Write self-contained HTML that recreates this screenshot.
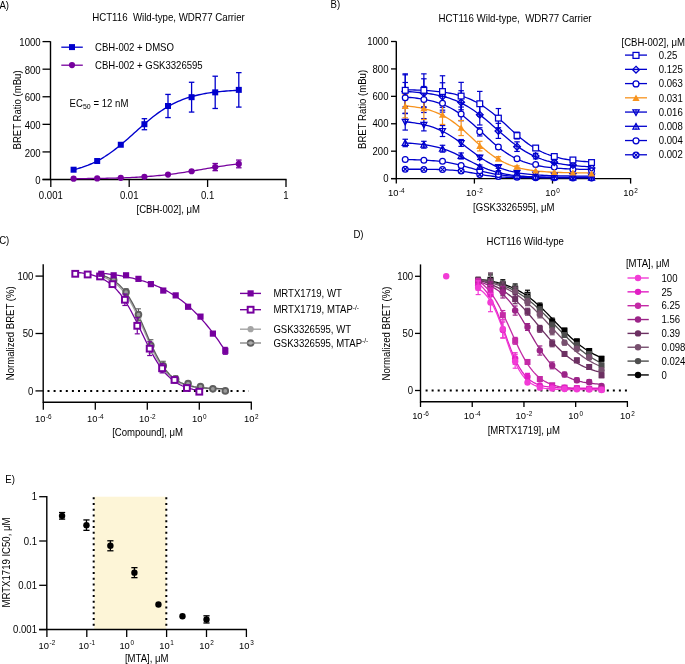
<!DOCTYPE html><html><head><meta charset="utf-8"><style>html,body{margin:0;padding:0;background:#fff;}svg text{font-family:"Liberation Sans",sans-serif;white-space:pre;}svg{will-change:transform;}</style></head><body><svg width="685" height="664" viewBox="0 0 685 664" font-family='"Liberation Sans", sans-serif' style="display:block">
<rect width="685" height="664" fill="#fff"/>
<text transform="translate(-0.6,8.6) scale(0.94,1)" text-anchor="start" font-size="10.2" fill="#000" >A)</text>
<g transform="translate(168.5,0) scale(1.012,1) translate(-168.5,0)">
<text transform="translate(168.5,20.5) scale(0.94,1)" text-anchor="middle" font-size="10.2" fill="#000" >HCT116  Wild-type, WDR77 Carrier</text>
</g>
<line x1="50.5" y1="41.3" x2="50.5" y2="180.1" stroke="#000" stroke-width="1.4" />
<line x1="42.5" y1="179.5" x2="286.6" y2="179.5" stroke="#000" stroke-width="1.4" />
<line x1="42.5" y1="179.5" x2="50.5" y2="179.5" stroke="#000" stroke-width="1.3" />
<text transform="translate(40.6,184.1) scale(0.94,1)" text-anchor="end" font-size="10.2" fill="#000" >0</text>
<line x1="42.5" y1="151.92" x2="50.5" y2="151.92" stroke="#000" stroke-width="1.3" />
<text transform="translate(40.6,156.52) scale(0.94,1)" text-anchor="end" font-size="10.2" fill="#000" >200</text>
<line x1="42.5" y1="124.34" x2="50.5" y2="124.34" stroke="#000" stroke-width="1.3" />
<text transform="translate(40.6,128.94) scale(0.94,1)" text-anchor="end" font-size="10.2" fill="#000" >400</text>
<line x1="42.5" y1="96.76" x2="50.5" y2="96.76" stroke="#000" stroke-width="1.3" />
<text transform="translate(40.6,101.36) scale(0.94,1)" text-anchor="end" font-size="10.2" fill="#000" >600</text>
<line x1="42.5" y1="69.18" x2="50.5" y2="69.18" stroke="#000" stroke-width="1.3" />
<text transform="translate(40.6,73.78) scale(0.94,1)" text-anchor="end" font-size="10.2" fill="#000" >800</text>
<line x1="42.5" y1="41.6" x2="50.5" y2="41.6" stroke="#000" stroke-width="1.3" />
<text transform="translate(40.6,46.2) scale(0.94,1)" text-anchor="end" font-size="10.2" fill="#000" >1000</text>
<line x1="50.8" y1="179.5" x2="50.8" y2="187" stroke="#000" stroke-width="1.3" />
<text transform="translate(50.8,198.8) scale(0.94,1)" text-anchor="middle" font-size="10.2" fill="#000" >0.001</text>
<line x1="129.2" y1="179.5" x2="129.2" y2="187" stroke="#000" stroke-width="1.3" />
<text transform="translate(129.2,198.8) scale(0.94,1)" text-anchor="middle" font-size="10.2" fill="#000" >0.01</text>
<line x1="207.6" y1="179.5" x2="207.6" y2="187" stroke="#000" stroke-width="1.3" />
<text transform="translate(207.6,198.8) scale(0.94,1)" text-anchor="middle" font-size="10.2" fill="#000" >0.1</text>
<line x1="286" y1="179.5" x2="286" y2="187" stroke="#000" stroke-width="1.3" />
<text transform="translate(286,198.8) scale(0.94,1)" text-anchor="middle" font-size="10.2" fill="#000" >1</text>
<text transform="translate(168.2,213.1) scale(0.94,1)" text-anchor="middle" font-size="10.2" fill="#000" >[CBH-002], μM</text>
<text transform="translate(20.6,109.9) rotate(-90) scale(0.94,1)" text-anchor="middle" font-size="10.2" fill="#000" >BRET Ratio (mBu)</text>
<line x1="61.3" y1="47.2" x2="82.8" y2="47.2" stroke="#0000CD" stroke-width="1.3" />
<rect x="69" y="44.1" width="6" height="6" fill="#0000CD"/>
<text transform="translate(95,50.8) scale(0.94,1)" text-anchor="start" font-size="10.2" fill="#000" >CBH-002 + DMSO</text>
<line x1="61.3" y1="65.2" x2="82.8" y2="65.2" stroke="#76009E" stroke-width="1.3" />
<circle cx="72" cy="65.1" r="3.1" fill="#76009E"/>
<text transform="translate(95,68.7) scale(0.94,1)" text-anchor="start" font-size="10.2" fill="#000" >CBH-002 + GSK3326595</text>
<text transform="translate(69.6,106.8) scale(0.94,1)" text-anchor="start" font-size="10.2" fill="#000" >EC<tspan font-size="7.4" dy="2.0">50</tspan><tspan dx="0.3" dy="-2.0"> = 12 nM</tspan></text>
<path d="M73.54 169.76L75.63 169.23L77.72 168.66L79.81 168.04L81.91 167.38L84 166.67L86.09 165.91L88.18 165.1L90.27 164.23L92.37 163.31L94.46 162.33L96.55 161.29L98.64 160.19L100.73 159.03L102.83 157.8L104.92 156.52L107.01 155.16L109.1 153.75L111.19 152.28L113.28 150.75L115.38 149.16L117.47 147.52L119.56 145.83L121.65 144.09L123.74 142.32L125.84 140.51L127.93 138.67L130.02 136.81L132.11 134.93L134.2 133.05L136.3 131.16L138.39 129.28L140.48 127.41L142.57 125.56L144.66 123.74L146.76 121.95L148.85 120.19L150.94 118.48L153.03 116.82L155.12 115.21L157.21 113.65L159.31 112.16L161.4 110.72L163.49 109.34L165.58 108.03L167.67 106.77L169.77 105.58L171.86 104.46L173.95 103.39L176.04 102.39L178.13 101.44L180.23 100.55L182.32 99.72L184.41 98.94L186.5 98.21L188.59 97.53L190.68 96.89L192.78 96.3L194.87 95.75L196.96 95.23L199.05 94.76L201.14 94.32L203.24 93.91L205.33 93.53L207.42 93.18L209.51 92.86L211.6 92.56L213.7 92.29L215.79 92.03L217.88 91.8L219.97 91.58L222.06 91.38L224.16 91.2L226.25 91.03L228.34 90.87L230.43 90.73L232.52 90.6L234.61 90.48L236.71 90.37L238.8 90.26" fill="none" stroke="#0000CD" stroke-width="1.4"/>
<path d="M73.54 178.64L75.63 178.62L77.72 178.61L79.81 178.59L81.91 178.58L84 178.56L86.09 178.54L88.18 178.52L90.27 178.49L92.37 178.47L94.46 178.44L96.55 178.41L98.64 178.38L100.73 178.35L102.83 178.31L104.92 178.28L107.01 178.23L109.1 178.19L111.19 178.14L113.28 178.09L115.38 178.04L117.47 177.98L119.56 177.92L121.65 177.85L123.74 177.78L125.84 177.7L127.93 177.62L130.02 177.53L132.11 177.44L134.2 177.34L136.3 177.23L138.39 177.11L140.48 176.99L142.57 176.86L144.66 176.73L146.76 176.58L148.85 176.43L150.94 176.26L153.03 176.09L155.12 175.91L157.21 175.72L159.31 175.52L161.4 175.3L163.49 175.08L165.58 174.85L167.67 174.6L169.77 174.35L171.86 174.09L173.95 173.81L176.04 173.53L178.13 173.23L180.23 172.93L182.32 172.62L184.41 172.3L186.5 171.97L188.59 171.63L190.68 171.29L192.78 170.95L194.87 170.59L196.96 170.24L199.05 169.88L201.14 169.53L203.24 169.17L205.33 168.81L207.42 168.46L209.51 168.1L211.6 167.75L213.7 167.41L215.79 167.07L217.88 166.74L219.97 166.41L222.06 166.09L224.16 165.79L226.25 165.48L228.34 165.19L230.43 164.91L232.52 164.64L234.61 164.38L236.71 164.13L238.8 163.89" fill="none" stroke="#76009E" stroke-width="1.3"/>
<rect x="70.59" y="166.71" width="6" height="6" fill="#0000CD"/>
<rect x="94.19" y="158.02" width="6" height="6" fill="#0000CD"/>
<rect x="117.79" y="141.75" width="6" height="6" fill="#0000CD"/>
<line x1="144.4" y1="118.69" x2="144.4" y2="129.72" stroke="#0000CD" stroke-width="1.3" />
<line x1="141.65" y1="118.69" x2="147.15" y2="118.69" stroke="#0000CD" stroke-width="1.3" />
<line x1="141.65" y1="129.72" x2="147.15" y2="129.72" stroke="#0000CD" stroke-width="1.3" />
<rect x="141.4" y="121.2" width="6" height="6" fill="#0000CD"/>
<line x1="168" y1="94.42" x2="168" y2="117.58" stroke="#0000CD" stroke-width="1.3" />
<line x1="165.25" y1="94.42" x2="170.75" y2="94.42" stroke="#0000CD" stroke-width="1.3" />
<line x1="165.25" y1="117.58" x2="170.75" y2="117.58" stroke="#0000CD" stroke-width="1.3" />
<rect x="165" y="103" width="6" height="6" fill="#0000CD"/>
<line x1="191.6" y1="82.28" x2="191.6" y2="112.07" stroke="#0000CD" stroke-width="1.3" />
<line x1="188.85" y1="82.28" x2="194.35" y2="82.28" stroke="#0000CD" stroke-width="1.3" />
<line x1="188.85" y1="112.07" x2="194.35" y2="112.07" stroke="#0000CD" stroke-width="1.3" />
<rect x="188.6" y="94.17" width="6" height="6" fill="#0000CD"/>
<line x1="215.2" y1="76.21" x2="215.2" y2="108.48" stroke="#0000CD" stroke-width="1.3" />
<line x1="212.45" y1="76.21" x2="217.95" y2="76.21" stroke="#0000CD" stroke-width="1.3" />
<line x1="212.45" y1="108.48" x2="217.95" y2="108.48" stroke="#0000CD" stroke-width="1.3" />
<rect x="212.2" y="89.35" width="6" height="6" fill="#0000CD"/>
<line x1="238.8" y1="72.63" x2="238.8" y2="107.1" stroke="#0000CD" stroke-width="1.3" />
<line x1="236.05" y1="72.63" x2="241.55" y2="72.63" stroke="#0000CD" stroke-width="1.3" />
<line x1="236.05" y1="107.1" x2="241.55" y2="107.1" stroke="#0000CD" stroke-width="1.3" />
<rect x="235.8" y="86.87" width="6" height="6" fill="#0000CD"/>
<circle cx="73.59" cy="178.67" r="3.1" fill="#76009E"/>
<circle cx="97.19" cy="178.4" r="3.1" fill="#76009E"/>
<circle cx="120.79" cy="177.85" r="3.1" fill="#76009E"/>
<circle cx="144.4" cy="176.74" r="3.1" fill="#76009E"/>
<circle cx="168" cy="174.54" r="3.1" fill="#76009E"/>
<line x1="191.6" y1="170.54" x2="191.6" y2="171.92" stroke="#76009E" stroke-width="1.3" />
<line x1="188.85" y1="170.54" x2="194.35" y2="170.54" stroke="#76009E" stroke-width="1.3" />
<line x1="188.85" y1="171.92" x2="194.35" y2="171.92" stroke="#76009E" stroke-width="1.3" />
<circle cx="191.6" cy="171.23" r="3.1" fill="#76009E"/>
<line x1="215.2" y1="163.5" x2="215.2" y2="170.67" stroke="#76009E" stroke-width="1.3" />
<line x1="212.45" y1="163.5" x2="217.95" y2="163.5" stroke="#76009E" stroke-width="1.3" />
<line x1="212.45" y1="170.67" x2="217.95" y2="170.67" stroke="#76009E" stroke-width="1.3" />
<circle cx="215.2" cy="167.09" r="3.1" fill="#76009E"/>
<line x1="238.8" y1="160.06" x2="238.8" y2="167.78" stroke="#76009E" stroke-width="1.3" />
<line x1="236.05" y1="160.06" x2="241.55" y2="160.06" stroke="#76009E" stroke-width="1.3" />
<line x1="236.05" y1="167.78" x2="241.55" y2="167.78" stroke="#76009E" stroke-width="1.3" />
<circle cx="238.8" cy="163.92" r="3.1" fill="#76009E"/>
<text transform="translate(330.5,7.6) scale(0.94,1)" text-anchor="start" font-size="10.2" fill="#000" >B)</text>
<g transform="translate(515,0) scale(1.015,1) translate(-515,0)">
<text transform="translate(515,22) scale(0.94,1)" text-anchor="middle" font-size="10.2" fill="#000" >HCT116 Wild-type,  WDR77 Carrier</text>
</g>
<line x1="396.3" y1="41.2" x2="396.3" y2="179.2" stroke="#000" stroke-width="1.4" />
<line x1="391" y1="178.6" x2="631.2" y2="178.6" stroke="#000" stroke-width="1.4" />
<line x1="391" y1="178.6" x2="396.3" y2="178.6" stroke="#000" stroke-width="1.3" />
<text transform="translate(388.5,182.3) scale(0.94,1)" text-anchor="end" font-size="10.2" fill="#000" >0</text>
<line x1="391" y1="151.18" x2="396.3" y2="151.18" stroke="#000" stroke-width="1.3" />
<text transform="translate(388.5,154.88) scale(0.94,1)" text-anchor="end" font-size="10.2" fill="#000" >200</text>
<line x1="391" y1="123.76" x2="396.3" y2="123.76" stroke="#000" stroke-width="1.3" />
<text transform="translate(388.5,127.46) scale(0.94,1)" text-anchor="end" font-size="10.2" fill="#000" >400</text>
<line x1="391" y1="96.34" x2="396.3" y2="96.34" stroke="#000" stroke-width="1.3" />
<text transform="translate(388.5,100.04) scale(0.94,1)" text-anchor="end" font-size="10.2" fill="#000" >600</text>
<line x1="391" y1="68.92" x2="396.3" y2="68.92" stroke="#000" stroke-width="1.3" />
<text transform="translate(388.5,72.62) scale(0.94,1)" text-anchor="end" font-size="10.2" fill="#000" >800</text>
<line x1="391" y1="41.5" x2="396.3" y2="41.5" stroke="#000" stroke-width="1.3" />
<text transform="translate(388.5,45.2) scale(0.94,1)" text-anchor="end" font-size="10.2" fill="#000" >1000</text>
<line x1="396.3" y1="178.6" x2="396.3" y2="183.6" stroke="#000" stroke-width="1.3" />
<text transform="translate(396.3,195.8)" text-anchor="middle" font-size="9.4">10<tspan font-size="6.4" dx="0.6" dy="-3.3">-4</tspan></text>
<line x1="474.4" y1="178.6" x2="474.4" y2="183.6" stroke="#000" stroke-width="1.3" />
<text transform="translate(474.4,195.8)" text-anchor="middle" font-size="9.4">10<tspan font-size="6.4" dx="0.6" dy="-3.3">-2</tspan></text>
<line x1="552.5" y1="178.6" x2="552.5" y2="183.6" stroke="#000" stroke-width="1.3" />
<text transform="translate(552.5,195.8)" text-anchor="middle" font-size="9.4">10<tspan font-size="6.4" dx="0.6" dy="-3.3">0</tspan></text>
<line x1="630.6" y1="178.6" x2="630.6" y2="183.6" stroke="#000" stroke-width="1.3" />
<text transform="translate(630.6,195.8)" text-anchor="middle" font-size="9.4">10<tspan font-size="6.4" dx="0.6" dy="-3.3">2</tspan></text>
<text transform="translate(513.8,210.7) scale(0.94,1)" text-anchor="middle" font-size="10.2" fill="#000" >[GSK3326595], μM</text>
<text transform="translate(366.3,109.4) rotate(-90) scale(0.94,1)" text-anchor="middle" font-size="10.2" fill="#000" >BRET Ratio (mBu)</text>
<text transform="translate(621.5,46) scale(0.94,1)" text-anchor="start" font-size="10.2" fill="#000" >[CBH-002], μM</text>
<line x1="625" y1="55.1" x2="647" y2="55.1" stroke="#0000CD" stroke-width="1.3" />
<rect x="633.02" y="52.42" width="5.95" height="5.95" fill="#fff" stroke="#0000CD" stroke-width="1.25"/>
<text transform="translate(658.8,58.8) scale(0.94,1)" text-anchor="start" font-size="10.2" fill="#000" >0.25</text>
<line x1="625" y1="69.34" x2="647" y2="69.34" stroke="#0000CD" stroke-width="1.3" />
<path d="M636 66.27L639.38 69.64L636 73.02L632.62 69.64Z" fill="none" stroke="#0000CD" stroke-width="1.25"/><line x1="632.62" y1="69.64" x2="639.38" y2="69.64" stroke="#0000CD" stroke-width="1"/>
<text transform="translate(658.8,73.04) scale(0.94,1)" text-anchor="start" font-size="10.2" fill="#000" >0.125</text>
<line x1="625" y1="83.58" x2="647" y2="83.58" stroke="#0000CD" stroke-width="1.3" />
<circle cx="636" cy="83.88" r="2.98" fill="#fff" stroke="#0000CD" stroke-width="1.25"/>
<text transform="translate(658.8,87.28) scale(0.94,1)" text-anchor="start" font-size="10.2" fill="#000" >0.063</text>
<line x1="625" y1="97.82" x2="647" y2="97.82" stroke="#F7931E" stroke-width="1.3" />
<path d="M636 94.52L639.6 101L632.4 101Z" fill="#F7931E"/>
<text transform="translate(658.8,101.52) scale(0.94,1)" text-anchor="start" font-size="10.2" fill="#000" >0.031</text>
<line x1="625" y1="112.06" x2="647" y2="112.06" stroke="#0000CD" stroke-width="1.3" />
<path d="M636 115.48L639.12 109.83L632.88 109.83Z" fill="none" stroke="#0000CD" stroke-width="1.25"/><line x1="636" y1="109.39" x2="636" y2="115.33" stroke="#0000CD" stroke-width="1"/>
<text transform="translate(658.8,115.76) scale(0.94,1)" text-anchor="start" font-size="10.2" fill="#000" >0.016</text>
<line x1="625" y1="126.3" x2="647" y2="126.3" stroke="#0000CD" stroke-width="1.3" />
<path d="M636 123.48L639.12 129.13L632.88 129.13Z" fill="none" stroke="#0000CD" stroke-width="1.25"/><line x1="636" y1="123.63" x2="636" y2="129.58" stroke="#0000CD" stroke-width="1"/>
<text transform="translate(658.8,130) scale(0.94,1)" text-anchor="start" font-size="10.2" fill="#000" >0.008</text>
<line x1="625" y1="140.54" x2="647" y2="140.54" stroke="#0000CD" stroke-width="1.3" />
<circle cx="636" cy="140.84" r="2.98" fill="#fff" stroke="#0000CD" stroke-width="1.25"/>
<text transform="translate(658.8,144.24) scale(0.94,1)" text-anchor="start" font-size="10.2" fill="#000" >0.004</text>
<line x1="625" y1="154.78" x2="647" y2="154.78" stroke="#0000CD" stroke-width="1.3" />
<circle cx="636" cy="155.08" r="2.98" fill="#fff" stroke="#0000CD" stroke-width="1.25"/>
<path d="M633.8 152.88L638.2 157.28M633.8 157.28L638.2 152.88" stroke="#0000CD" stroke-width="1.15"/>
<text transform="translate(658.8,158.48) scale(0.94,1)" text-anchor="start" font-size="10.2" fill="#000" >0.002</text>
<path d="M405.23 169.23L407.59 169.23L409.95 169.24L412.31 169.24L414.67 169.25L417.03 169.26L419.38 169.27L421.74 169.28L424.1 169.3L426.46 169.32L428.82 169.34L431.18 169.38L433.54 169.41L435.89 169.46L438.25 169.52L440.61 169.58L442.97 169.67L445.33 169.77L447.69 169.89L450.04 170.03L452.4 170.2L454.76 170.4L457.12 170.63L459.48 170.9L461.84 171.2L464.19 171.54L466.55 171.92L468.91 172.32L471.27 172.75L473.63 173.2L475.99 173.65L478.35 174.09L480.7 174.53L483.06 174.94L485.42 175.32L487.78 175.67L490.14 175.98L492.5 176.26L494.85 176.5L497.21 176.71L499.57 176.89L501.93 177.04L504.29 177.17L506.65 177.27L509.01 177.36L511.36 177.43L513.72 177.49L516.08 177.54L518.44 177.58L520.8 177.61L523.16 177.64L525.51 177.66L527.87 177.67L530.23 177.69L532.59 177.7L534.95 177.71L537.31 177.72L539.66 177.72L542.02 177.73L544.38 177.73L546.74 177.74L549.1 177.74L551.46 177.74L553.82 177.74L556.17 177.74L558.53 177.74L560.89 177.75L563.25 177.75L565.61 177.75L567.97 177.75L570.32 177.75L572.68 177.75L575.04 177.75L577.4 177.75L579.76 177.75L582.12 177.75L584.47 177.75L586.83 177.75L589.19 177.75L591.55 177.75" fill="none" stroke="#0000CD" stroke-width="1.3"/>
<path d="M405.23 159.56L407.59 159.6L409.95 159.65L412.31 159.7L414.67 159.76L417.03 159.83L419.38 159.91L421.74 160.01L424.1 160.11L426.46 160.24L428.82 160.38L431.18 160.54L433.54 160.73L435.89 160.94L438.25 161.18L440.61 161.45L442.97 161.75L445.33 162.09L447.69 162.47L450.04 162.88L452.4 163.34L454.76 163.83L457.12 164.37L459.48 164.94L461.84 165.55L464.19 166.19L466.55 166.85L468.91 167.52L471.27 168.21L473.63 168.9L475.99 169.58L478.35 170.25L480.7 170.9L483.06 171.52L485.42 172.11L487.78 172.66L490.14 173.18L492.5 173.65L494.85 174.09L497.21 174.48L499.57 174.84L501.93 175.16L504.29 175.44L506.65 175.7L509.01 175.92L511.36 176.12L513.72 176.29L516.08 176.44L518.44 176.58L520.8 176.69L523.16 176.79L525.51 176.88L527.87 176.95L530.23 177.02L532.59 177.07L534.95 177.12L537.31 177.17L539.66 177.2L542.02 177.23L544.38 177.26L546.74 177.28L549.1 177.3L551.46 177.32L553.82 177.34L556.17 177.35L558.53 177.36L560.89 177.37L563.25 177.38L565.61 177.38L567.97 177.39L570.32 177.39L572.68 177.4L575.04 177.4L577.4 177.41L579.76 177.41L582.12 177.41L584.47 177.41L586.83 177.41L589.19 177.42L591.55 177.42" fill="none" stroke="#0000CD" stroke-width="1.3"/>
<path d="M405.23 142.99L407.59 143.12L409.95 143.26L412.31 143.42L414.67 143.61L417.03 143.82L419.38 144.06L421.74 144.33L424.1 144.64L426.46 144.99L428.82 145.37L431.18 145.81L433.54 146.3L435.89 146.84L438.25 147.44L440.61 148.1L442.97 148.83L445.33 149.62L447.69 150.48L450.04 151.4L452.4 152.39L454.76 153.44L457.12 154.54L459.48 155.69L461.84 156.87L464.19 158.09L466.55 159.32L468.91 160.55L471.27 161.78L473.63 162.99L475.99 164.17L478.35 165.31L480.7 166.4L483.06 167.43L485.42 168.41L487.78 169.32L490.14 170.16L492.5 170.94L494.85 171.65L497.21 172.3L499.57 172.89L501.93 173.42L504.29 173.9L506.65 174.33L509.01 174.71L511.36 175.04L513.72 175.34L516.08 175.61L518.44 175.84L520.8 176.05L523.16 176.23L525.51 176.39L527.87 176.53L530.23 176.65L532.59 176.76L534.95 176.85L537.31 176.93L539.66 177.01L542.02 177.07L544.38 177.12L546.74 177.17L549.1 177.21L551.46 177.25L553.82 177.28L556.17 177.31L558.53 177.33L560.89 177.35L563.25 177.37L565.61 177.39L567.97 177.4L570.32 177.41L572.68 177.42L575.04 177.43L577.4 177.44L579.76 177.44L582.12 177.45L584.47 177.46L586.83 177.46L589.19 177.46L591.55 177.47" fill="none" stroke="#0000CD" stroke-width="1.3"/>
<path d="M405.23 121.76L407.59 122L409.95 122.26L412.31 122.56L414.67 122.9L417.03 123.28L419.38 123.7L421.74 124.18L424.1 124.7L426.46 125.29L428.82 125.95L431.18 126.67L433.54 127.47L435.89 128.35L438.25 129.31L440.61 130.36L442.97 131.49L445.33 132.72L447.69 134.04L450.04 135.44L452.4 136.93L454.76 138.49L457.12 140.13L459.48 141.83L461.84 143.57L464.19 145.36L466.55 147.16L468.91 148.98L471.27 150.78L473.63 152.56L475.99 154.31L478.35 156.01L480.7 157.65L483.06 159.22L485.42 160.71L487.78 162.11L490.14 163.43L492.5 164.66L494.85 165.8L497.21 166.85L499.57 167.81L501.93 168.69L504.29 169.49L506.65 170.22L509.01 170.87L511.36 171.46L513.72 171.99L516.08 172.47L518.44 172.89L520.8 173.27L523.16 173.61L525.51 173.91L527.87 174.18L530.23 174.42L532.59 174.62L534.95 174.81L537.31 174.98L539.66 175.12L542.02 175.25L544.38 175.36L546.74 175.46L549.1 175.55L551.46 175.63L553.82 175.7L556.17 175.76L558.53 175.81L560.89 175.86L563.25 175.9L565.61 175.93L567.97 175.97L570.32 175.99L572.68 176.02L575.04 176.04L577.4 176.06L579.76 176.08L582.12 176.09L584.47 176.1L586.83 176.11L589.19 176.12L591.55 176.13" fill="none" stroke="#0000CD" stroke-width="1.3"/>
<path d="M405.23 105.78L407.59 106.02L409.95 106.28L412.31 106.58L414.67 106.91L417.03 107.29L419.38 107.71L421.74 108.18L424.1 108.71L426.46 109.3L428.82 109.96L431.18 110.68L433.54 111.49L435.89 112.38L438.25 113.37L440.61 114.45L442.97 115.62L445.33 116.9L447.69 118.29L450.04 119.79L452.4 121.39L454.76 123.1L457.12 124.9L459.48 126.8L461.84 128.78L464.19 130.84L466.55 132.95L468.91 135.11L471.27 137.3L473.63 139.49L475.99 141.68L478.35 143.85L480.7 145.97L483.06 148.03L485.42 150.03L487.78 151.94L490.14 153.76L492.5 155.48L494.85 157.1L497.21 158.61L499.57 160.01L501.93 161.31L504.29 162.5L506.65 163.59L509.01 164.59L511.36 165.49L513.72 166.31L516.08 167.05L518.44 167.72L520.8 168.32L523.16 168.85L525.51 169.33L527.87 169.76L530.23 170.14L532.59 170.48L534.95 170.79L537.31 171.05L539.66 171.29L542.02 171.5L544.38 171.69L546.74 171.86L549.1 172L551.46 172.13L553.82 172.25L556.17 172.35L558.53 172.44L560.89 172.52L563.25 172.59L565.61 172.65L567.97 172.7L570.32 172.75L572.68 172.79L575.04 172.83L577.4 172.86L579.76 172.89L582.12 172.92L584.47 172.94L586.83 172.96L589.19 172.98L591.55 172.99" fill="none" stroke="#F7931E" stroke-width="1.3"/>
<path d="M405.23 97.1L407.59 97.28L409.95 97.49L412.31 97.72L414.67 97.97L417.03 98.26L419.38 98.58L421.74 98.93L424.1 99.33L426.46 99.77L428.82 100.27L431.18 100.81L433.54 101.42L435.89 102.09L438.25 102.83L440.61 103.64L442.97 104.54L445.33 105.52L447.69 106.59L450.04 107.76L452.4 109.02L454.76 110.38L457.12 111.85L459.48 113.41L461.84 115.08L464.19 116.85L466.55 118.7L468.91 120.65L471.27 122.67L473.63 124.76L475.99 126.9L478.35 129.08L480.7 131.29L483.06 133.51L485.42 135.72L487.78 137.92L490.14 140.07L492.5 142.18L494.85 144.22L497.21 146.19L499.57 148.07L501.93 149.86L504.29 151.56L506.65 153.16L509.01 154.65L511.36 156.04L513.72 157.33L516.08 158.53L518.44 159.63L520.8 160.63L523.16 161.55L525.51 162.39L527.87 163.15L530.23 163.84L532.59 164.47L534.95 165.03L537.31 165.54L539.66 165.99L542.02 166.4L544.38 166.77L546.74 167.1L549.1 167.4L551.46 167.66L553.82 167.9L556.17 168.11L558.53 168.29L560.89 168.46L563.25 168.61L565.61 168.74L567.97 168.86L570.32 168.97L572.68 169.06L575.04 169.14L577.4 169.22L579.76 169.28L582.12 169.34L584.47 169.39L586.83 169.44L589.19 169.48L591.55 169.52" fill="none" stroke="#0000CD" stroke-width="1.3"/>
<path d="M405.23 91.5L407.59 91.63L409.95 91.77L412.31 91.93L414.67 92.11L417.03 92.3L419.38 92.52L421.74 92.76L424.1 93.02L426.46 93.31L428.82 93.64L431.18 94L433.54 94.39L435.89 94.83L438.25 95.3L440.61 95.83L442.97 96.41L445.33 97.04L447.69 97.73L450.04 98.49L452.4 99.31L454.76 100.21L457.12 101.18L459.48 102.23L461.84 103.36L464.19 104.58L466.55 105.88L468.91 107.27L471.27 108.75L473.63 110.31L475.99 111.96L478.35 113.69L480.7 115.5L483.06 117.37L485.42 119.31L487.78 121.3L490.14 123.34L492.5 125.4L494.85 127.49L497.21 129.59L499.57 131.69L501.93 133.77L504.29 135.82L506.65 137.84L509.01 139.8L511.36 141.71L513.72 143.55L516.08 145.32L518.44 147.01L520.8 148.62L523.16 150.14L525.51 151.58L527.87 152.92L530.23 154.18L532.59 155.36L534.95 156.45L537.31 157.46L539.66 158.39L542.02 159.25L544.38 160.04L546.74 160.77L549.1 161.43L551.46 162.04L553.82 162.59L556.17 163.09L558.53 163.55L560.89 163.96L563.25 164.34L565.61 164.68L567.97 164.99L570.32 165.27L572.68 165.52L575.04 165.75L577.4 165.95L579.76 166.14L582.12 166.3L584.47 166.46L586.83 166.59L589.19 166.71L591.55 166.82" fill="none" stroke="#0000CD" stroke-width="1.3"/>
<path d="M405.23 89.73L407.59 89.79L409.95 89.85L412.31 89.92L414.67 89.99L417.03 90.08L419.38 90.18L421.74 90.29L424.1 90.41L426.46 90.55L428.82 90.71L431.18 90.88L433.54 91.08L435.89 91.29L438.25 91.54L440.61 91.81L442.97 92.11L445.33 92.45L447.69 92.83L450.04 93.25L452.4 93.72L454.76 94.23L457.12 94.81L459.48 95.44L461.84 96.14L464.19 96.91L466.55 97.76L468.91 98.68L471.27 99.7L473.63 100.8L475.99 101.99L478.35 103.28L480.7 104.67L483.06 106.16L485.42 107.74L487.78 109.42L490.14 111.2L492.5 113.06L494.85 115L497.21 117.01L499.57 119.08L501.93 121.2L504.29 123.35L506.65 125.52L509.01 127.7L511.36 129.86L513.72 132L516.08 134.1L518.44 136.15L520.8 138.13L523.16 140.04L525.51 141.87L527.87 143.6L530.23 145.24L532.59 146.79L534.95 148.23L537.31 149.58L539.66 150.83L542.02 151.98L544.38 153.05L546.74 154.02L549.1 154.91L551.46 155.73L553.82 156.47L556.17 157.14L558.53 157.74L560.89 158.29L563.25 158.79L565.61 159.24L567.97 159.64L570.32 160L572.68 160.32L575.04 160.61L577.4 160.87L579.76 161.1L582.12 161.31L584.47 161.5L586.83 161.66L589.19 161.81L591.55 161.94" fill="none" stroke="#0000CD" stroke-width="1.3"/>
<line x1="405.23" y1="139.25" x2="405.23" y2="146.66" stroke="#0000CD" stroke-width="1.2" />
<line x1="402.48" y1="139.25" x2="407.98" y2="139.25" stroke="#0000CD" stroke-width="1.2" />
<line x1="402.48" y1="146.66" x2="407.98" y2="146.66" stroke="#0000CD" stroke-width="1.2" />
<line x1="423.87" y1="141.31" x2="423.87" y2="148.16" stroke="#0000CD" stroke-width="1.2" />
<line x1="421.12" y1="141.31" x2="426.62" y2="141.31" stroke="#0000CD" stroke-width="1.2" />
<line x1="421.12" y1="148.16" x2="426.62" y2="148.16" stroke="#0000CD" stroke-width="1.2" />
<line x1="442.5" y1="145.28" x2="442.5" y2="152.14" stroke="#0000CD" stroke-width="1.2" />
<line x1="439.75" y1="145.28" x2="445.25" y2="145.28" stroke="#0000CD" stroke-width="1.2" />
<line x1="439.75" y1="152.14" x2="445.25" y2="152.14" stroke="#0000CD" stroke-width="1.2" />
<line x1="461.13" y1="152.96" x2="461.13" y2="158.99" stroke="#0000CD" stroke-width="1.2" />
<line x1="458.38" y1="152.96" x2="463.88" y2="152.96" stroke="#0000CD" stroke-width="1.2" />
<line x1="458.38" y1="158.99" x2="463.88" y2="158.99" stroke="#0000CD" stroke-width="1.2" />
<line x1="479.76" y1="165.03" x2="479.76" y2="168.87" stroke="#0000CD" stroke-width="1.2" />
<line x1="477.01" y1="165.03" x2="482.51" y2="165.03" stroke="#0000CD" stroke-width="1.2" />
<line x1="477.01" y1="168.87" x2="482.51" y2="168.87" stroke="#0000CD" stroke-width="1.2" />
<line x1="498.39" y1="170.65" x2="498.39" y2="172.84" stroke="#0000CD" stroke-width="1.2" />
<line x1="495.64" y1="170.65" x2="501.14" y2="170.65" stroke="#0000CD" stroke-width="1.2" />
<line x1="495.64" y1="172.84" x2="501.14" y2="172.84" stroke="#0000CD" stroke-width="1.2" />
<line x1="405.23" y1="113.61" x2="405.23" y2="130.07" stroke="#0000CD" stroke-width="1.2" />
<line x1="402.48" y1="113.61" x2="407.98" y2="113.61" stroke="#0000CD" stroke-width="1.2" />
<line x1="402.48" y1="130.07" x2="407.98" y2="130.07" stroke="#0000CD" stroke-width="1.2" />
<line x1="423.87" y1="118.55" x2="423.87" y2="130.89" stroke="#0000CD" stroke-width="1.2" />
<line x1="421.12" y1="118.55" x2="426.62" y2="118.55" stroke="#0000CD" stroke-width="1.2" />
<line x1="421.12" y1="130.89" x2="426.62" y2="130.89" stroke="#0000CD" stroke-width="1.2" />
<line x1="442.5" y1="125.54" x2="442.5" y2="136.51" stroke="#0000CD" stroke-width="1.2" />
<line x1="439.75" y1="125.54" x2="445.25" y2="125.54" stroke="#0000CD" stroke-width="1.2" />
<line x1="439.75" y1="136.51" x2="445.25" y2="136.51" stroke="#0000CD" stroke-width="1.2" />
<line x1="461.13" y1="139.53" x2="461.13" y2="146.38" stroke="#0000CD" stroke-width="1.2" />
<line x1="458.38" y1="139.53" x2="463.88" y2="139.53" stroke="#0000CD" stroke-width="1.2" />
<line x1="458.38" y1="146.38" x2="463.88" y2="146.38" stroke="#0000CD" stroke-width="1.2" />
<line x1="479.76" y1="155.43" x2="479.76" y2="159.54" stroke="#0000CD" stroke-width="1.2" />
<line x1="477.01" y1="155.43" x2="482.51" y2="155.43" stroke="#0000CD" stroke-width="1.2" />
<line x1="477.01" y1="159.54" x2="482.51" y2="159.54" stroke="#0000CD" stroke-width="1.2" />
<line x1="498.39" y1="165.58" x2="498.39" y2="168.32" stroke="#0000CD" stroke-width="1.2" />
<line x1="495.64" y1="165.58" x2="501.14" y2="165.58" stroke="#0000CD" stroke-width="1.2" />
<line x1="495.64" y1="168.32" x2="501.14" y2="168.32" stroke="#0000CD" stroke-width="1.2" />
<line x1="517.02" y1="171.61" x2="517.02" y2="173.8" stroke="#0000CD" stroke-width="1.2" />
<line x1="514.27" y1="171.61" x2="519.77" y2="171.61" stroke="#0000CD" stroke-width="1.2" />
<line x1="514.27" y1="173.8" x2="519.77" y2="173.8" stroke="#0000CD" stroke-width="1.2" />
<line x1="405.23" y1="82.49" x2="405.23" y2="113.2" stroke="#0000CD" stroke-width="1.2" />
<line x1="402.48" y1="82.49" x2="407.98" y2="82.49" stroke="#0000CD" stroke-width="1.2" />
<line x1="402.48" y1="113.2" x2="407.98" y2="113.2" stroke="#0000CD" stroke-width="1.2" />
<line x1="423.87" y1="86.47" x2="423.87" y2="112.52" stroke="#0000CD" stroke-width="1.2" />
<line x1="421.12" y1="86.47" x2="426.62" y2="86.47" stroke="#0000CD" stroke-width="1.2" />
<line x1="421.12" y1="112.52" x2="426.62" y2="112.52" stroke="#0000CD" stroke-width="1.2" />
<line x1="442.5" y1="94.28" x2="442.5" y2="112.11" stroke="#0000CD" stroke-width="1.2" />
<line x1="439.75" y1="94.28" x2="445.25" y2="94.28" stroke="#0000CD" stroke-width="1.2" />
<line x1="439.75" y1="112.11" x2="445.25" y2="112.11" stroke="#0000CD" stroke-width="1.2" />
<line x1="461.13" y1="107.03" x2="461.13" y2="120.74" stroke="#0000CD" stroke-width="1.2" />
<line x1="458.38" y1="107.03" x2="463.88" y2="107.03" stroke="#0000CD" stroke-width="1.2" />
<line x1="458.38" y1="120.74" x2="463.88" y2="120.74" stroke="#0000CD" stroke-width="1.2" />
<line x1="479.76" y1="127.74" x2="479.76" y2="135.96" stroke="#0000CD" stroke-width="1.2" />
<line x1="477.01" y1="127.74" x2="482.51" y2="127.74" stroke="#0000CD" stroke-width="1.2" />
<line x1="477.01" y1="135.96" x2="482.51" y2="135.96" stroke="#0000CD" stroke-width="1.2" />
<line x1="498.39" y1="144.87" x2="498.39" y2="148.99" stroke="#0000CD" stroke-width="1.2" />
<line x1="495.64" y1="144.87" x2="501.14" y2="144.87" stroke="#0000CD" stroke-width="1.2" />
<line x1="495.64" y1="148.99" x2="501.14" y2="148.99" stroke="#0000CD" stroke-width="1.2" />
<line x1="517.02" y1="157.35" x2="517.02" y2="160.09" stroke="#0000CD" stroke-width="1.2" />
<line x1="514.27" y1="157.35" x2="519.77" y2="157.35" stroke="#0000CD" stroke-width="1.2" />
<line x1="514.27" y1="160.09" x2="519.77" y2="160.09" stroke="#0000CD" stroke-width="1.2" />
<line x1="535.66" y1="163.38" x2="535.66" y2="165.58" stroke="#0000CD" stroke-width="1.2" />
<line x1="532.91" y1="163.38" x2="538.41" y2="163.38" stroke="#0000CD" stroke-width="1.2" />
<line x1="532.91" y1="165.58" x2="538.41" y2="165.58" stroke="#0000CD" stroke-width="1.2" />
<line x1="405.23" y1="74.82" x2="405.23" y2="108.27" stroke="#0000CD" stroke-width="1.2" />
<line x1="402.48" y1="74.82" x2="407.98" y2="74.82" stroke="#0000CD" stroke-width="1.2" />
<line x1="402.48" y1="108.27" x2="407.98" y2="108.27" stroke="#0000CD" stroke-width="1.2" />
<line x1="423.87" y1="78.79" x2="423.87" y2="107.58" stroke="#0000CD" stroke-width="1.2" />
<line x1="421.12" y1="78.79" x2="426.62" y2="78.79" stroke="#0000CD" stroke-width="1.2" />
<line x1="421.12" y1="107.58" x2="426.62" y2="107.58" stroke="#0000CD" stroke-width="1.2" />
<line x1="442.5" y1="82.77" x2="442.5" y2="110.19" stroke="#0000CD" stroke-width="1.2" />
<line x1="439.75" y1="82.77" x2="445.25" y2="82.77" stroke="#0000CD" stroke-width="1.2" />
<line x1="439.75" y1="110.19" x2="445.25" y2="110.19" stroke="#0000CD" stroke-width="1.2" />
<line x1="461.13" y1="90.72" x2="461.13" y2="114.03" stroke="#0000CD" stroke-width="1.2" />
<line x1="458.38" y1="90.72" x2="463.88" y2="90.72" stroke="#0000CD" stroke-width="1.2" />
<line x1="458.38" y1="114.03" x2="463.88" y2="114.03" stroke="#0000CD" stroke-width="1.2" />
<line x1="479.76" y1="104.43" x2="479.76" y2="124.99" stroke="#0000CD" stroke-width="1.2" />
<line x1="477.01" y1="104.43" x2="482.51" y2="104.43" stroke="#0000CD" stroke-width="1.2" />
<line x1="477.01" y1="124.99" x2="482.51" y2="124.99" stroke="#0000CD" stroke-width="1.2" />
<line x1="498.39" y1="123.35" x2="498.39" y2="138.43" stroke="#0000CD" stroke-width="1.2" />
<line x1="495.64" y1="123.35" x2="501.14" y2="123.35" stroke="#0000CD" stroke-width="1.2" />
<line x1="495.64" y1="138.43" x2="501.14" y2="138.43" stroke="#0000CD" stroke-width="1.2" />
<line x1="517.02" y1="141.86" x2="517.02" y2="151.45" stroke="#0000CD" stroke-width="1.2" />
<line x1="514.27" y1="141.86" x2="519.77" y2="141.86" stroke="#0000CD" stroke-width="1.2" />
<line x1="514.27" y1="151.45" x2="519.77" y2="151.45" stroke="#0000CD" stroke-width="1.2" />
<line x1="535.66" y1="153.37" x2="535.66" y2="158.86" stroke="#0000CD" stroke-width="1.2" />
<line x1="532.91" y1="153.37" x2="538.41" y2="153.37" stroke="#0000CD" stroke-width="1.2" />
<line x1="532.91" y1="158.86" x2="538.41" y2="158.86" stroke="#0000CD" stroke-width="1.2" />
<line x1="554.29" y1="160.78" x2="554.29" y2="163.52" stroke="#0000CD" stroke-width="1.2" />
<line x1="551.54" y1="160.78" x2="557.04" y2="160.78" stroke="#0000CD" stroke-width="1.2" />
<line x1="551.54" y1="163.52" x2="557.04" y2="163.52" stroke="#0000CD" stroke-width="1.2" />
<line x1="572.92" y1="163.93" x2="572.92" y2="166.12" stroke="#0000CD" stroke-width="1.2" />
<line x1="570.17" y1="163.93" x2="575.67" y2="163.93" stroke="#0000CD" stroke-width="1.2" />
<line x1="570.17" y1="166.12" x2="575.67" y2="166.12" stroke="#0000CD" stroke-width="1.2" />
<line x1="405.23" y1="73.86" x2="405.23" y2="106.76" stroke="#0000CD" stroke-width="1.2" />
<line x1="402.48" y1="73.86" x2="407.98" y2="73.86" stroke="#0000CD" stroke-width="1.2" />
<line x1="402.48" y1="106.76" x2="407.98" y2="106.76" stroke="#0000CD" stroke-width="1.2" />
<line x1="423.87" y1="73.86" x2="423.87" y2="106.76" stroke="#0000CD" stroke-width="1.2" />
<line x1="421.12" y1="73.86" x2="426.62" y2="73.86" stroke="#0000CD" stroke-width="1.2" />
<line x1="421.12" y1="106.76" x2="426.62" y2="106.76" stroke="#0000CD" stroke-width="1.2" />
<line x1="442.5" y1="75.77" x2="442.5" y2="107.31" stroke="#0000CD" stroke-width="1.2" />
<line x1="439.75" y1="75.77" x2="445.25" y2="75.77" stroke="#0000CD" stroke-width="1.2" />
<line x1="439.75" y1="107.31" x2="445.25" y2="107.31" stroke="#0000CD" stroke-width="1.2" />
<line x1="461.13" y1="82.36" x2="461.13" y2="109.78" stroke="#0000CD" stroke-width="1.2" />
<line x1="458.38" y1="82.36" x2="463.88" y2="82.36" stroke="#0000CD" stroke-width="1.2" />
<line x1="458.38" y1="109.78" x2="463.88" y2="109.78" stroke="#0000CD" stroke-width="1.2" />
<line x1="479.76" y1="91.4" x2="479.76" y2="116.08" stroke="#0000CD" stroke-width="1.2" />
<line x1="477.01" y1="91.4" x2="482.51" y2="91.4" stroke="#0000CD" stroke-width="1.2" />
<line x1="477.01" y1="116.08" x2="482.51" y2="116.08" stroke="#0000CD" stroke-width="1.2" />
<line x1="498.39" y1="108.54" x2="498.39" y2="127.74" stroke="#0000CD" stroke-width="1.2" />
<line x1="495.64" y1="108.54" x2="501.14" y2="108.54" stroke="#0000CD" stroke-width="1.2" />
<line x1="495.64" y1="127.74" x2="501.14" y2="127.74" stroke="#0000CD" stroke-width="1.2" />
<line x1="517.02" y1="132.12" x2="517.02" y2="138.98" stroke="#0000CD" stroke-width="1.2" />
<line x1="514.27" y1="132.12" x2="519.77" y2="132.12" stroke="#0000CD" stroke-width="1.2" />
<line x1="514.27" y1="138.98" x2="519.77" y2="138.98" stroke="#0000CD" stroke-width="1.2" />
<line x1="535.66" y1="145.97" x2="535.66" y2="150.08" stroke="#0000CD" stroke-width="1.2" />
<line x1="532.91" y1="145.97" x2="538.41" y2="145.97" stroke="#0000CD" stroke-width="1.2" />
<line x1="532.91" y1="150.08" x2="538.41" y2="150.08" stroke="#0000CD" stroke-width="1.2" />
<line x1="554.29" y1="155.16" x2="554.29" y2="157.9" stroke="#0000CD" stroke-width="1.2" />
<line x1="551.54" y1="155.16" x2="557.04" y2="155.16" stroke="#0000CD" stroke-width="1.2" />
<line x1="551.54" y1="157.9" x2="557.04" y2="157.9" stroke="#0000CD" stroke-width="1.2" />
<line x1="572.92" y1="158.86" x2="572.92" y2="161.05" stroke="#0000CD" stroke-width="1.2" />
<line x1="570.17" y1="158.86" x2="575.67" y2="158.86" stroke="#0000CD" stroke-width="1.2" />
<line x1="570.17" y1="161.05" x2="575.67" y2="161.05" stroke="#0000CD" stroke-width="1.2" />
<line x1="591.55" y1="161.46" x2="591.55" y2="163.66" stroke="#0000CD" stroke-width="1.2" />
<line x1="588.8" y1="161.46" x2="594.3" y2="161.46" stroke="#0000CD" stroke-width="1.2" />
<line x1="588.8" y1="163.66" x2="594.3" y2="163.66" stroke="#0000CD" stroke-width="1.2" />
<line x1="405.23" y1="94.56" x2="405.23" y2="117.86" stroke="#F7931E" stroke-width="1.2" />
<line x1="402.48" y1="94.56" x2="407.98" y2="94.56" stroke="#F7931E" stroke-width="1.2" />
<line x1="402.48" y1="117.86" x2="407.98" y2="117.86" stroke="#F7931E" stroke-width="1.2" />
<line x1="423.87" y1="97.57" x2="423.87" y2="119.51" stroke="#F7931E" stroke-width="1.2" />
<line x1="421.12" y1="97.57" x2="426.62" y2="97.57" stroke="#F7931E" stroke-width="1.2" />
<line x1="421.12" y1="119.51" x2="426.62" y2="119.51" stroke="#F7931E" stroke-width="1.2" />
<line x1="442.5" y1="105.25" x2="442.5" y2="124.45" stroke="#F7931E" stroke-width="1.2" />
<line x1="439.75" y1="105.25" x2="445.25" y2="105.25" stroke="#F7931E" stroke-width="1.2" />
<line x1="439.75" y1="124.45" x2="445.25" y2="124.45" stroke="#F7931E" stroke-width="1.2" />
<line x1="461.13" y1="120.47" x2="461.13" y2="135.55" stroke="#F7931E" stroke-width="1.2" />
<line x1="458.38" y1="120.47" x2="463.88" y2="120.47" stroke="#F7931E" stroke-width="1.2" />
<line x1="458.38" y1="135.55" x2="463.88" y2="135.55" stroke="#F7931E" stroke-width="1.2" />
<line x1="479.76" y1="141.31" x2="479.76" y2="150.91" stroke="#F7931E" stroke-width="1.2" />
<line x1="477.01" y1="141.31" x2="482.51" y2="141.31" stroke="#F7931E" stroke-width="1.2" />
<line x1="477.01" y1="150.91" x2="482.51" y2="150.91" stroke="#F7931E" stroke-width="1.2" />
<line x1="498.39" y1="156.66" x2="498.39" y2="160.78" stroke="#F7931E" stroke-width="1.2" />
<line x1="495.64" y1="156.66" x2="501.14" y2="156.66" stroke="#F7931E" stroke-width="1.2" />
<line x1="495.64" y1="160.78" x2="501.14" y2="160.78" stroke="#F7931E" stroke-width="1.2" />
<line x1="517.02" y1="165.85" x2="517.02" y2="168.04" stroke="#F7931E" stroke-width="1.2" />
<line x1="514.27" y1="165.85" x2="519.77" y2="165.85" stroke="#F7931E" stroke-width="1.2" />
<line x1="514.27" y1="168.04" x2="519.77" y2="168.04" stroke="#F7931E" stroke-width="1.2" />
<circle cx="405.23" cy="169.14" r="2.88" fill="#fff" stroke="#0000CD" stroke-width="1.25"/>
<path d="M403.11 167.01L407.36 171.27M403.11 171.27L407.36 167.01" stroke="#0000CD" stroke-width="1.15"/>
<circle cx="423.87" cy="169.55" r="2.88" fill="#fff" stroke="#0000CD" stroke-width="1.25"/>
<path d="M421.74 167.42L425.99 171.68M421.74 171.68L425.99 167.42" stroke="#0000CD" stroke-width="1.15"/>
<circle cx="442.5" cy="169.55" r="2.88" fill="#fff" stroke="#0000CD" stroke-width="1.25"/>
<path d="M440.37 167.42L444.62 171.68M440.37 171.68L444.62 167.42" stroke="#0000CD" stroke-width="1.15"/>
<circle cx="461.13" cy="170.92" r="2.88" fill="#fff" stroke="#0000CD" stroke-width="1.25"/>
<path d="M459 168.79L463.26 173.05M459 173.05L463.26 168.79" stroke="#0000CD" stroke-width="1.15"/>
<circle cx="479.76" cy="174.62" r="2.88" fill="#fff" stroke="#0000CD" stroke-width="1.25"/>
<path d="M477.63 172.5L481.89 176.75M477.63 176.75L481.89 172.5" stroke="#0000CD" stroke-width="1.15"/>
<circle cx="498.39" cy="176.54" r="2.88" fill="#fff" stroke="#0000CD" stroke-width="1.25"/>
<path d="M496.26 174.42L500.52 178.67M496.26 178.67L500.52 174.42" stroke="#0000CD" stroke-width="1.15"/>
<circle cx="517.02" cy="177.37" r="2.88" fill="#fff" stroke="#0000CD" stroke-width="1.25"/>
<path d="M514.9 175.24L519.15 179.49M514.9 179.49L519.15 175.24" stroke="#0000CD" stroke-width="1.15"/>
<circle cx="535.66" cy="177.64" r="2.88" fill="#fff" stroke="#0000CD" stroke-width="1.25"/>
<path d="M533.53 175.51L537.78 179.77M533.53 179.77L537.78 175.51" stroke="#0000CD" stroke-width="1.15"/>
<circle cx="554.29" cy="177.78" r="2.88" fill="#fff" stroke="#0000CD" stroke-width="1.25"/>
<path d="M552.16 175.65L556.41 179.9M552.16 179.9L556.41 175.65" stroke="#0000CD" stroke-width="1.15"/>
<circle cx="572.92" cy="177.91" r="2.88" fill="#fff" stroke="#0000CD" stroke-width="1.25"/>
<path d="M570.79 175.79L575.05 180.04M570.79 180.04L575.05 175.79" stroke="#0000CD" stroke-width="1.15"/>
<circle cx="591.55" cy="177.91" r="2.88" fill="#fff" stroke="#0000CD" stroke-width="1.25"/>
<path d="M589.42 175.79L593.68 180.04M589.42 180.04L593.68 175.79" stroke="#0000CD" stroke-width="1.15"/>
<circle cx="405.23" cy="159.54" r="2.88" fill="#fff" stroke="#0000CD" stroke-width="1.25"/>
<circle cx="423.87" cy="160.37" r="2.88" fill="#fff" stroke="#0000CD" stroke-width="1.25"/>
<circle cx="442.5" cy="161.33" r="2.88" fill="#fff" stroke="#0000CD" stroke-width="1.25"/>
<circle cx="461.13" cy="165.44" r="2.88" fill="#fff" stroke="#0000CD" stroke-width="1.25"/>
<circle cx="479.76" cy="170.79" r="2.88" fill="#fff" stroke="#0000CD" stroke-width="1.25"/>
<circle cx="498.39" cy="174.62" r="2.88" fill="#fff" stroke="#0000CD" stroke-width="1.25"/>
<circle cx="517.02" cy="176.27" r="2.88" fill="#fff" stroke="#0000CD" stroke-width="1.25"/>
<circle cx="535.66" cy="176.95" r="2.88" fill="#fff" stroke="#0000CD" stroke-width="1.25"/>
<circle cx="554.29" cy="177.37" r="2.88" fill="#fff" stroke="#0000CD" stroke-width="1.25"/>
<circle cx="572.92" cy="177.5" r="2.88" fill="#fff" stroke="#0000CD" stroke-width="1.25"/>
<circle cx="591.55" cy="177.64" r="2.88" fill="#fff" stroke="#0000CD" stroke-width="1.25"/>
<path d="M405.23 139.94L408.25 145.4L402.22 145.4Z" fill="none" stroke="#0000CD" stroke-width="1.25"/><line x1="405.23" y1="140.08" x2="405.23" y2="145.83" stroke="#0000CD" stroke-width="1"/>
<path d="M423.87 141.72L426.88 147.18L420.85 147.18Z" fill="none" stroke="#0000CD" stroke-width="1.25"/><line x1="423.87" y1="141.86" x2="423.87" y2="147.61" stroke="#0000CD" stroke-width="1"/>
<path d="M442.5 145.69L445.52 151.16L439.48 151.16Z" fill="none" stroke="#0000CD" stroke-width="1.25"/><line x1="442.5" y1="145.84" x2="442.5" y2="151.59" stroke="#0000CD" stroke-width="1"/>
<path d="M461.13 152.96L464.15 158.42L458.11 158.42Z" fill="none" stroke="#0000CD" stroke-width="1.25"/><line x1="461.13" y1="153.1" x2="461.13" y2="158.85" stroke="#0000CD" stroke-width="1"/>
<path d="M479.76 163.93L482.78 169.39L476.74 169.39Z" fill="none" stroke="#0000CD" stroke-width="1.25"/><line x1="479.76" y1="164.07" x2="479.76" y2="169.82" stroke="#0000CD" stroke-width="1"/>
<path d="M498.39 168.73L501.41 174.19L495.37 174.19Z" fill="none" stroke="#0000CD" stroke-width="1.25"/><line x1="498.39" y1="168.87" x2="498.39" y2="174.62" stroke="#0000CD" stroke-width="1"/>
<path d="M517.02 172.84L520.04 178.3L514 178.3Z" fill="none" stroke="#0000CD" stroke-width="1.25"/><line x1="517.02" y1="172.98" x2="517.02" y2="178.73" stroke="#0000CD" stroke-width="1"/>
<path d="M535.66 173.66L538.67 179.12L532.64 179.12Z" fill="none" stroke="#0000CD" stroke-width="1.25"/><line x1="535.66" y1="173.81" x2="535.66" y2="179.56" stroke="#0000CD" stroke-width="1"/>
<path d="M554.29 174.21L557.31 179.67L551.27 179.67Z" fill="none" stroke="#0000CD" stroke-width="1.25"/><line x1="554.29" y1="174.35" x2="554.29" y2="180.1" stroke="#0000CD" stroke-width="1"/>
<path d="M572.92 174.48L575.94 179.95L569.9 179.95Z" fill="none" stroke="#0000CD" stroke-width="1.25"/><line x1="572.92" y1="174.63" x2="572.92" y2="180.38" stroke="#0000CD" stroke-width="1"/>
<path d="M591.55 174.76L594.57 180.22L588.53 180.22Z" fill="none" stroke="#0000CD" stroke-width="1.25"/><line x1="591.55" y1="174.9" x2="591.55" y2="180.65" stroke="#0000CD" stroke-width="1"/>
<path d="M405.23 124.86L408.25 119.4L402.22 119.4Z" fill="none" stroke="#0000CD" stroke-width="1.25"/><line x1="405.23" y1="118.97" x2="405.23" y2="124.72" stroke="#0000CD" stroke-width="1"/>
<path d="M423.87 127.74L426.88 122.28L420.85 122.28Z" fill="none" stroke="#0000CD" stroke-width="1.25"/><line x1="423.87" y1="121.84" x2="423.87" y2="127.59" stroke="#0000CD" stroke-width="1"/>
<path d="M442.5 134.05L445.52 128.58L439.48 128.58Z" fill="none" stroke="#0000CD" stroke-width="1.25"/><line x1="442.5" y1="128.15" x2="442.5" y2="133.9" stroke="#0000CD" stroke-width="1"/>
<path d="M461.13 145.97L464.15 140.51L458.11 140.51Z" fill="none" stroke="#0000CD" stroke-width="1.25"/><line x1="461.13" y1="140.08" x2="461.13" y2="145.83" stroke="#0000CD" stroke-width="1"/>
<path d="M479.76 160.51L482.78 155.04L476.74 155.04Z" fill="none" stroke="#0000CD" stroke-width="1.25"/><line x1="479.76" y1="154.61" x2="479.76" y2="160.36" stroke="#0000CD" stroke-width="1"/>
<path d="M498.39 169.97L501.41 164.5L495.37 164.5Z" fill="none" stroke="#0000CD" stroke-width="1.25"/><line x1="498.39" y1="164.07" x2="498.39" y2="169.82" stroke="#0000CD" stroke-width="1"/>
<path d="M517.02 175.72L520.04 170.26L514 170.26Z" fill="none" stroke="#0000CD" stroke-width="1.25"/><line x1="517.02" y1="169.83" x2="517.02" y2="175.58" stroke="#0000CD" stroke-width="1"/>
<path d="M535.66 177.51L538.67 172.04L532.64 172.04Z" fill="none" stroke="#0000CD" stroke-width="1.25"/><line x1="535.66" y1="171.61" x2="535.66" y2="177.36" stroke="#0000CD" stroke-width="1"/>
<path d="M554.29 178.6L557.31 173.14L551.27 173.14Z" fill="none" stroke="#0000CD" stroke-width="1.25"/><line x1="554.29" y1="172.71" x2="554.29" y2="178.46" stroke="#0000CD" stroke-width="1"/>
<path d="M572.92 179.15L575.94 173.69L569.9 173.69Z" fill="none" stroke="#0000CD" stroke-width="1.25"/><line x1="572.92" y1="173.26" x2="572.92" y2="179.01" stroke="#0000CD" stroke-width="1"/>
<path d="M591.55 179.56L594.57 174.1L588.53 174.1Z" fill="none" stroke="#0000CD" stroke-width="1.25"/><line x1="591.55" y1="173.67" x2="591.55" y2="179.42" stroke="#0000CD" stroke-width="1"/>
<circle cx="405.23" cy="97.85" r="2.88" fill="#fff" stroke="#0000CD" stroke-width="1.25"/>
<circle cx="423.87" cy="99.49" r="2.88" fill="#fff" stroke="#0000CD" stroke-width="1.25"/>
<circle cx="442.5" cy="103.19" r="2.88" fill="#fff" stroke="#0000CD" stroke-width="1.25"/>
<circle cx="461.13" cy="113.89" r="2.88" fill="#fff" stroke="#0000CD" stroke-width="1.25"/>
<circle cx="479.76" cy="131.85" r="2.88" fill="#fff" stroke="#0000CD" stroke-width="1.25"/>
<circle cx="498.39" cy="146.93" r="2.88" fill="#fff" stroke="#0000CD" stroke-width="1.25"/>
<circle cx="517.02" cy="158.72" r="2.88" fill="#fff" stroke="#0000CD" stroke-width="1.25"/>
<circle cx="535.66" cy="164.48" r="2.88" fill="#fff" stroke="#0000CD" stroke-width="1.25"/>
<circle cx="554.29" cy="166.95" r="2.88" fill="#fff" stroke="#0000CD" stroke-width="1.25"/>
<circle cx="572.92" cy="169.41" r="2.88" fill="#fff" stroke="#0000CD" stroke-width="1.25"/>
<circle cx="591.55" cy="170.79" r="2.88" fill="#fff" stroke="#0000CD" stroke-width="1.25"/>
<path d="M405.23 88.17L408.61 91.54L405.23 94.92L401.86 91.54Z" fill="none" stroke="#0000CD" stroke-width="1.25"/><line x1="401.86" y1="91.54" x2="408.61" y2="91.54" stroke="#0000CD" stroke-width="1"/>
<path d="M423.87 89.81L427.24 93.19L423.87 96.56L420.49 93.19Z" fill="none" stroke="#0000CD" stroke-width="1.25"/><line x1="420.49" y1="93.19" x2="427.24" y2="93.19" stroke="#0000CD" stroke-width="1"/>
<path d="M442.5 93.1L445.87 96.48L442.5 99.85L439.12 96.48Z" fill="none" stroke="#0000CD" stroke-width="1.25"/><line x1="439.12" y1="96.48" x2="445.87" y2="96.48" stroke="#0000CD" stroke-width="1"/>
<path d="M461.13 99L464.5 102.37L461.13 105.75L457.75 102.37Z" fill="none" stroke="#0000CD" stroke-width="1.25"/><line x1="457.75" y1="102.37" x2="464.5" y2="102.37" stroke="#0000CD" stroke-width="1"/>
<path d="M479.76 111.34L483.14 114.71L479.76 118.09L476.39 114.71Z" fill="none" stroke="#0000CD" stroke-width="1.25"/><line x1="476.39" y1="114.71" x2="483.14" y2="114.71" stroke="#0000CD" stroke-width="1"/>
<path d="M498.39 127.51L501.77 130.89L498.39 134.26L495.02 130.89Z" fill="none" stroke="#0000CD" stroke-width="1.25"/><line x1="495.02" y1="130.89" x2="501.77" y2="130.89" stroke="#0000CD" stroke-width="1"/>
<path d="M517.02 143.28L520.4 146.66L517.02 150.03L513.65 146.66Z" fill="none" stroke="#0000CD" stroke-width="1.25"/><line x1="513.65" y1="146.66" x2="520.4" y2="146.66" stroke="#0000CD" stroke-width="1"/>
<path d="M535.66 152.74L539.03 156.12L535.66 159.49L532.28 156.12Z" fill="none" stroke="#0000CD" stroke-width="1.25"/><line x1="532.28" y1="156.12" x2="539.03" y2="156.12" stroke="#0000CD" stroke-width="1"/>
<path d="M554.29 158.77L557.66 162.15L554.29 165.52L550.91 162.15Z" fill="none" stroke="#0000CD" stroke-width="1.25"/><line x1="550.91" y1="162.15" x2="557.66" y2="162.15" stroke="#0000CD" stroke-width="1"/>
<path d="M572.92 161.65L576.29 165.03L572.92 168.4L569.54 165.03Z" fill="none" stroke="#0000CD" stroke-width="1.25"/><line x1="569.54" y1="165.03" x2="576.29" y2="165.03" stroke="#0000CD" stroke-width="1"/>
<path d="M591.55 164.53L594.92 167.91L591.55 171.28L588.17 167.91Z" fill="none" stroke="#0000CD" stroke-width="1.25"/><line x1="588.17" y1="167.91" x2="594.92" y2="167.91" stroke="#0000CD" stroke-width="1"/>
<rect x="402.36" y="87.43" width="5.75" height="5.75" fill="#fff" stroke="#0000CD" stroke-width="1.25"/>
<rect x="420.99" y="87.43" width="5.75" height="5.75" fill="#fff" stroke="#0000CD" stroke-width="1.25"/>
<rect x="439.62" y="88.67" width="5.75" height="5.75" fill="#fff" stroke="#0000CD" stroke-width="1.25"/>
<rect x="458.25" y="93.19" width="5.75" height="5.75" fill="#fff" stroke="#0000CD" stroke-width="1.25"/>
<rect x="476.89" y="100.87" width="5.75" height="5.75" fill="#fff" stroke="#0000CD" stroke-width="1.25"/>
<rect x="495.52" y="115.26" width="5.75" height="5.75" fill="#fff" stroke="#0000CD" stroke-width="1.25"/>
<rect x="514.15" y="132.68" width="5.75" height="5.75" fill="#fff" stroke="#0000CD" stroke-width="1.25"/>
<rect x="532.78" y="145.15" width="5.75" height="5.75" fill="#fff" stroke="#0000CD" stroke-width="1.25"/>
<rect x="551.41" y="153.65" width="5.75" height="5.75" fill="#fff" stroke="#0000CD" stroke-width="1.25"/>
<rect x="570.04" y="157.08" width="5.75" height="5.75" fill="#fff" stroke="#0000CD" stroke-width="1.25"/>
<rect x="588.67" y="159.68" width="5.75" height="5.75" fill="#fff" stroke="#0000CD" stroke-width="1.25"/>
<path d="M405.23 102.71L408.73 109.01L401.73 109.01Z" fill="#F7931E"/>
<path d="M423.87 105.04L427.37 111.34L420.37 111.34Z" fill="#F7931E"/>
<path d="M442.5 111.35L446 117.65L439 117.65Z" fill="#F7931E"/>
<path d="M461.13 124.51L464.63 130.81L457.63 130.81Z" fill="#F7931E"/>
<path d="M479.76 142.61L483.26 148.91L476.26 148.91Z" fill="#F7931E"/>
<path d="M498.39 155.22L501.89 161.52L494.89 161.52Z" fill="#F7931E"/>
<path d="M517.02 163.45L520.52 169.75L513.52 169.75Z" fill="#F7931E"/>
<path d="M535.66 167.29L539.16 173.59L532.16 173.59Z" fill="#F7931E"/>
<path d="M554.29 168.66L557.79 174.96L550.79 174.96Z" fill="#F7931E"/>
<path d="M572.92 169.2L576.42 175.5L569.42 175.5Z" fill="#F7931E"/>
<path d="M591.55 170.16L595.05 176.46L588.05 176.46Z" fill="#F7931E"/>
<text transform="translate(-0.8,244.2) scale(0.94,1)" text-anchor="start" font-size="10.2" fill="#000" >C)</text>
<line x1="43.2" y1="264.2" x2="43.2" y2="402.9" stroke="#000" stroke-width="1.4" />
<line x1="43.2" y1="402.2" x2="251.9" y2="402.2" stroke="#000" stroke-width="1.4" />
<line x1="35.5" y1="390.9" x2="43.2" y2="390.9" stroke="#000" stroke-width="1.3" />
<text transform="translate(33.4,394.6) scale(0.94,1)" text-anchor="end" font-size="10.2" fill="#000" >0</text>
<line x1="35.5" y1="333.5" x2="43.2" y2="333.5" stroke="#000" stroke-width="1.3" />
<text transform="translate(33.4,337.2) scale(0.94,1)" text-anchor="end" font-size="10.2" fill="#000" >50</text>
<line x1="35.5" y1="276.1" x2="43.2" y2="276.1" stroke="#000" stroke-width="1.3" />
<text transform="translate(33.4,279.8) scale(0.94,1)" text-anchor="end" font-size="10.2" fill="#000" >100</text>
<line x1="43.3" y1="402.2" x2="43.3" y2="409.8" stroke="#000" stroke-width="1.3" />
<text transform="translate(43.3,422.4)" text-anchor="middle" font-size="9.4">10<tspan font-size="6.4" dx="0.6" dy="-3.3">-6</tspan></text>
<line x1="95.3" y1="402.2" x2="95.3" y2="409.8" stroke="#000" stroke-width="1.3" />
<text transform="translate(95.3,422.4)" text-anchor="middle" font-size="9.4">10<tspan font-size="6.4" dx="0.6" dy="-3.3">-4</tspan></text>
<line x1="147.3" y1="402.2" x2="147.3" y2="409.8" stroke="#000" stroke-width="1.3" />
<text transform="translate(147.3,422.4)" text-anchor="middle" font-size="9.4">10<tspan font-size="6.4" dx="0.6" dy="-3.3">-2</tspan></text>
<line x1="199.3" y1="402.2" x2="199.3" y2="409.8" stroke="#000" stroke-width="1.3" />
<text transform="translate(199.3,422.4)" text-anchor="middle" font-size="9.4">10<tspan font-size="6.4" dx="0.6" dy="-3.3">0</tspan></text>
<line x1="251.3" y1="402.2" x2="251.3" y2="409.8" stroke="#000" stroke-width="1.3" />
<text transform="translate(251.3,422.4)" text-anchor="middle" font-size="9.4">10<tspan font-size="6.4" dx="0.6" dy="-3.3">2</tspan></text>
<text transform="translate(147.6,435.8) scale(0.94,1)" text-anchor="middle" font-size="10.2" fill="#000" >[Compound], μM</text>
<text transform="translate(14.2,333.3) rotate(-90) scale(0.94,1)" text-anchor="middle" font-size="10.2" fill="#000" >Normalized BRET (%)</text>
<line x1="47.5" y1="390.9" x2="249" y2="390.9" stroke="#000" stroke-width="2" stroke-dasharray="2 4.1"/>
<path d="M101.25 276.56L102.82 277.02L104.39 277.55L105.96 278.14L107.53 278.8L109.1 279.54L110.67 280.37L112.24 281.29L113.81 282.32L115.38 283.46L116.95 284.73L118.52 286.13L120.09 287.67L121.66 289.36L123.23 291.22L124.8 293.24L126.37 295.43L127.94 297.8L129.51 300.35L131.08 303.07L132.65 305.96L134.22 309.01L135.79 312.21L137.36 315.55L138.94 319L140.51 322.54L142.08 326.14L143.65 329.79L145.22 333.44L146.79 337.08L148.36 340.67L149.93 344.18L151.5 347.6L153.07 350.9L154.64 354.06L156.21 357.07L157.78 359.92L159.35 362.59L160.92 365.09L162.49 367.41L164.06 369.55L165.63 371.53L167.2 373.34L168.77 374.99L170.34 376.49L171.91 377.86L173.48 379.09L175.05 380.2L176.62 381.2L178.19 382.09L179.76 382.89L181.33 383.61L182.9 384.25L184.47 384.82L186.04 385.33L187.61 385.78L189.18 386.19L190.75 386.54L192.32 386.86L193.89 387.14L195.46 387.39L197.04 387.61L198.61 387.8L200.18 387.98L201.75 388.13L203.32 388.26L204.89 388.38L206.46 388.49L208.03 388.58L209.6 388.66L211.17 388.74L212.74 388.8L214.31 388.86L215.88 388.91L217.45 388.95L219.02 388.99L220.59 389.02L222.16 389.05L223.73 389.08L225.3 389.1" fill="none" stroke="#A4A4A4" stroke-width="1.3"/>
<path d="M101.25 275.18L102.82 275.62L104.39 276.12L105.96 276.68L107.53 277.31L109.1 278.01L110.67 278.8L112.24 279.67L113.81 280.65L115.38 281.74L116.95 282.95L118.52 284.28L120.09 285.76L121.66 287.38L123.23 289.16L124.8 291.1L126.37 293.21L127.94 295.5L129.51 297.96L131.08 300.6L132.65 303.41L134.22 306.39L135.79 309.52L137.36 312.8L138.94 316.2L140.51 319.71L142.08 323.29L143.65 326.93L145.22 330.6L146.79 334.26L148.36 337.9L149.93 341.47L151.5 344.96L153.07 348.35L154.64 351.6L156.21 354.71L157.78 357.67L159.35 360.45L160.92 363.06L162.49 365.5L164.06 367.76L165.63 369.84L167.2 371.76L168.77 373.51L170.34 375.11L171.91 376.56L173.48 377.87L175.05 379.06L176.62 380.13L178.19 381.1L179.76 381.96L181.33 382.73L182.9 383.42L184.47 384.04L186.04 384.59L187.61 385.08L189.18 385.51L190.75 385.9L192.32 386.24L193.89 386.55L195.46 386.82L197.04 387.06L198.61 387.27L200.18 387.46L201.75 387.62L203.32 387.77L204.89 387.9L206.46 388.02L208.03 388.12L209.6 388.21L211.17 388.29L212.74 388.36L214.31 388.42L215.88 388.47L217.45 388.52L219.02 388.56L220.59 388.6L222.16 388.63L223.73 388.66L225.3 388.69" fill="none" stroke="#5E5E5E" stroke-width="1.3"/>
<path d="M75.25 272.3L76.82 272.44L78.39 272.6L79.96 272.77L81.53 272.97L83.1 273.19L84.67 273.43L86.24 273.69L87.81 273.99L89.38 274.32L90.95 274.68L92.52 275.09L94.09 275.53L95.66 276.02L97.23 276.57L98.8 277.17L100.37 277.83L101.94 278.56L103.51 279.36L105.08 280.24L106.65 281.21L108.22 282.26L109.79 283.42L111.36 284.67L112.94 286.04L114.51 287.52L116.08 289.13L117.65 290.86L119.22 292.72L120.79 294.72L122.36 296.85L123.93 299.13L125.5 301.53L127.07 304.07L128.64 306.74L130.21 309.54L131.78 312.44L133.35 315.45L134.92 318.54L136.49 321.71L138.06 324.94L139.63 328.21L141.2 331.5L142.77 334.79L144.34 338.07L145.91 341.31L147.48 344.49L149.05 347.61L150.62 350.64L152.19 353.56L153.76 356.38L155.33 359.08L156.9 361.65L158.47 364.09L160.04 366.39L161.61 368.56L163.18 370.59L164.75 372.48L166.32 374.24L167.89 375.88L169.46 377.39L171.04 378.78L172.61 380.06L174.18 381.24L175.75 382.32L177.32 383.3L178.89 384.2L180.46 385.02L182.03 385.76L183.6 386.44L185.17 387.06L186.74 387.61L188.31 388.12L189.88 388.57L191.45 388.99L193.02 389.36L194.59 389.69L196.16 390L197.73 390.27L199.3 390.52" fill="none" stroke="#76009E" stroke-width="1.3"/>
<path d="M101.25 273.19L102.82 273.36L104.39 273.53L105.96 273.71L107.53 273.89L109.1 274.09L110.67 274.29L112.24 274.51L113.81 274.73L115.38 274.96L116.95 275.2L118.52 275.45L120.09 275.71L121.66 275.98L123.23 276.27L124.8 276.56L126.37 276.87L127.94 277.19L129.51 277.53L131.08 277.88L132.65 278.24L134.22 278.62L135.79 279.01L137.36 279.42L138.94 279.84L140.51 280.29L142.08 280.75L143.65 281.23L145.22 281.73L146.79 282.25L148.36 282.79L149.93 283.35L151.5 283.93L153.07 284.54L154.64 285.17L156.21 285.83L157.78 286.51L159.35 287.21L160.92 287.95L162.49 288.71L164.06 289.5L165.63 290.32L167.2 291.17L168.77 292.05L170.34 292.96L171.91 293.91L173.48 294.89L175.05 295.9L176.62 296.96L178.19 298.04L179.76 299.17L181.33 300.33L182.9 301.54L184.47 302.78L186.04 304.07L187.61 305.39L189.18 306.76L190.75 308.17L192.32 309.63L193.89 311.13L195.46 312.67L197.04 314.26L198.61 315.9L200.18 317.59L201.75 319.32L203.32 321.1L204.89 322.92L206.46 324.79L208.03 326.72L209.6 328.69L211.17 330.7L212.74 332.77L214.31 334.88L215.88 337.04L217.45 339.24L219.02 341.49L220.59 343.78L222.16 346.12L223.73 348.5L225.3 350.93" fill="none" stroke="#76009E" stroke-width="1.3"/>
<circle cx="101.25" cy="277.25" r="3" fill="#A4A4A4"/>
<line x1="113.65" y1="279.54" x2="113.65" y2="284.14" stroke="#A4A4A4" stroke-width="1.1" />
<line x1="111.15" y1="279.54" x2="116.15" y2="279.54" stroke="#A4A4A4" stroke-width="1.1" />
<line x1="111.15" y1="284.14" x2="116.15" y2="284.14" stroke="#A4A4A4" stroke-width="1.1" />
<circle cx="113.65" cy="281.84" r="3" fill="#A4A4A4"/>
<line x1="126.06" y1="291.02" x2="126.06" y2="297.91" stroke="#A4A4A4" stroke-width="1.1" />
<line x1="123.56" y1="291.02" x2="128.56" y2="291.02" stroke="#A4A4A4" stroke-width="1.1" />
<line x1="123.56" y1="297.91" x2="128.56" y2="297.91" stroke="#A4A4A4" stroke-width="1.1" />
<circle cx="126.06" cy="294.47" r="3" fill="#A4A4A4"/>
<line x1="138.46" y1="311.69" x2="138.46" y2="323.17" stroke="#A4A4A4" stroke-width="1.1" />
<line x1="135.96" y1="311.69" x2="140.96" y2="311.69" stroke="#A4A4A4" stroke-width="1.1" />
<line x1="135.96" y1="323.17" x2="140.96" y2="323.17" stroke="#A4A4A4" stroke-width="1.1" />
<circle cx="138.46" cy="317.43" r="3" fill="#A4A4A4"/>
<line x1="150.87" y1="342.11" x2="150.87" y2="353.59" stroke="#A4A4A4" stroke-width="1.1" />
<line x1="148.37" y1="342.11" x2="153.37" y2="342.11" stroke="#A4A4A4" stroke-width="1.1" />
<line x1="148.37" y1="353.59" x2="153.37" y2="353.59" stroke="#A4A4A4" stroke-width="1.1" />
<circle cx="150.87" cy="347.85" r="3" fill="#A4A4A4"/>
<line x1="163.27" y1="363.35" x2="163.27" y2="372.53" stroke="#A4A4A4" stroke-width="1.1" />
<line x1="160.77" y1="363.35" x2="165.77" y2="363.35" stroke="#A4A4A4" stroke-width="1.1" />
<line x1="160.77" y1="372.53" x2="165.77" y2="372.53" stroke="#A4A4A4" stroke-width="1.1" />
<circle cx="163.27" cy="367.94" r="3" fill="#A4A4A4"/>
<line x1="175.68" y1="376.55" x2="175.68" y2="383.44" stroke="#A4A4A4" stroke-width="1.1" />
<line x1="173.18" y1="376.55" x2="178.18" y2="376.55" stroke="#A4A4A4" stroke-width="1.1" />
<line x1="173.18" y1="383.44" x2="178.18" y2="383.44" stroke="#A4A4A4" stroke-width="1.1" />
<circle cx="175.68" cy="379.99" r="3" fill="#A4A4A4"/>
<line x1="188.08" y1="382.29" x2="188.08" y2="386.88" stroke="#A4A4A4" stroke-width="1.1" />
<line x1="185.58" y1="382.29" x2="190.58" y2="382.29" stroke="#A4A4A4" stroke-width="1.1" />
<line x1="185.58" y1="386.88" x2="190.58" y2="386.88" stroke="#A4A4A4" stroke-width="1.1" />
<circle cx="188.08" cy="384.59" r="3" fill="#A4A4A4"/>
<circle cx="200.49" cy="387.46" r="3" fill="#A4A4A4"/>
<circle cx="212.89" cy="389.18" r="3" fill="#A4A4A4"/>
<circle cx="225.3" cy="390.9" r="3" fill="#A4A4A4"/>
<circle cx="101.25" cy="276.1" r="2.85" fill="#9a9a9a" stroke="#5E5E5E" stroke-width="1.9"/>
<line x1="113.65" y1="277.71" x2="113.65" y2="282.3" stroke="#5E5E5E" stroke-width="1.1" />
<line x1="111.15" y1="277.71" x2="116.15" y2="277.71" stroke="#5E5E5E" stroke-width="1.1" />
<line x1="111.15" y1="282.3" x2="116.15" y2="282.3" stroke="#5E5E5E" stroke-width="1.1" />
<circle cx="113.65" cy="280" r="2.85" fill="#9a9a9a" stroke="#5E5E5E" stroke-width="1.9"/>
<line x1="126.06" y1="288.73" x2="126.06" y2="295.62" stroke="#5E5E5E" stroke-width="1.1" />
<line x1="123.56" y1="288.73" x2="128.56" y2="288.73" stroke="#5E5E5E" stroke-width="1.1" />
<line x1="123.56" y1="295.62" x2="128.56" y2="295.62" stroke="#5E5E5E" stroke-width="1.1" />
<circle cx="126.06" cy="292.17" r="2.85" fill="#9a9a9a" stroke="#5E5E5E" stroke-width="1.9"/>
<line x1="138.46" y1="308.82" x2="138.46" y2="320.3" stroke="#5E5E5E" stroke-width="1.1" />
<line x1="135.96" y1="308.82" x2="140.96" y2="308.82" stroke="#5E5E5E" stroke-width="1.1" />
<line x1="135.96" y1="320.3" x2="140.96" y2="320.3" stroke="#5E5E5E" stroke-width="1.1" />
<circle cx="138.46" cy="314.56" r="2.85" fill="#9a9a9a" stroke="#5E5E5E" stroke-width="1.9"/>
<line x1="150.87" y1="339.7" x2="150.87" y2="351.18" stroke="#5E5E5E" stroke-width="1.1" />
<line x1="148.37" y1="339.7" x2="153.37" y2="339.7" stroke="#5E5E5E" stroke-width="1.1" />
<line x1="148.37" y1="351.18" x2="153.37" y2="351.18" stroke="#5E5E5E" stroke-width="1.1" />
<circle cx="150.87" cy="345.44" r="2.85" fill="#9a9a9a" stroke="#5E5E5E" stroke-width="1.9"/>
<line x1="163.27" y1="361.28" x2="163.27" y2="370.47" stroke="#5E5E5E" stroke-width="1.1" />
<line x1="160.77" y1="361.28" x2="165.77" y2="361.28" stroke="#5E5E5E" stroke-width="1.1" />
<line x1="160.77" y1="370.47" x2="165.77" y2="370.47" stroke="#5E5E5E" stroke-width="1.1" />
<circle cx="163.27" cy="365.87" r="2.85" fill="#9a9a9a" stroke="#5E5E5E" stroke-width="1.9"/>
<line x1="175.68" y1="375.75" x2="175.68" y2="382.63" stroke="#5E5E5E" stroke-width="1.1" />
<line x1="173.18" y1="375.75" x2="178.18" y2="375.75" stroke="#5E5E5E" stroke-width="1.1" />
<line x1="173.18" y1="382.63" x2="178.18" y2="382.63" stroke="#5E5E5E" stroke-width="1.1" />
<circle cx="175.68" cy="379.19" r="2.85" fill="#9a9a9a" stroke="#5E5E5E" stroke-width="1.9"/>
<line x1="188.08" y1="381.26" x2="188.08" y2="385.85" stroke="#5E5E5E" stroke-width="1.1" />
<line x1="185.58" y1="381.26" x2="190.58" y2="381.26" stroke="#5E5E5E" stroke-width="1.1" />
<line x1="185.58" y1="385.85" x2="190.58" y2="385.85" stroke="#5E5E5E" stroke-width="1.1" />
<circle cx="188.08" cy="383.55" r="2.85" fill="#9a9a9a" stroke="#5E5E5E" stroke-width="1.9"/>
<circle cx="200.49" cy="386.54" r="2.85" fill="#9a9a9a" stroke="#5E5E5E" stroke-width="1.9"/>
<circle cx="212.89" cy="388.83" r="2.85" fill="#9a9a9a" stroke="#5E5E5E" stroke-width="1.9"/>
<circle cx="225.3" cy="390.9" r="2.85" fill="#9a9a9a" stroke="#5E5E5E" stroke-width="1.9"/>
<rect x="72.35" y="270.9" width="5.8" height="5.8" fill="#fff" stroke="#76009E" stroke-width="2.0"/>
<rect x="84.75" y="271.59" width="5.8" height="5.8" fill="#fff" stroke="#76009E" stroke-width="2.0"/>
<rect x="97.16" y="273.54" width="5.8" height="5.8" fill="#fff" stroke="#76009E" stroke-width="2.0"/>
<rect x="109.56" y="281.24" width="5.8" height="5.8" fill="#fff" stroke="#76009E" stroke-width="2.0"/>
<line x1="124.87" y1="294.01" x2="124.87" y2="305.49" stroke="#76009E" stroke-width="1.2" />
<line x1="122.37" y1="294.01" x2="127.37" y2="294.01" stroke="#76009E" stroke-width="1.2" />
<line x1="122.37" y1="305.49" x2="127.37" y2="305.49" stroke="#76009E" stroke-width="1.2" />
<rect x="121.97" y="296.85" width="5.8" height="5.8" fill="#fff" stroke="#76009E" stroke-width="2.0"/>
<line x1="137.27" y1="317.77" x2="137.27" y2="333.84" stroke="#76009E" stroke-width="1.2" />
<line x1="134.77" y1="317.77" x2="139.77" y2="317.77" stroke="#76009E" stroke-width="1.2" />
<line x1="134.77" y1="333.84" x2="139.77" y2="333.84" stroke="#76009E" stroke-width="1.2" />
<rect x="134.37" y="322.91" width="5.8" height="5.8" fill="#fff" stroke="#76009E" stroke-width="2.0"/>
<line x1="149.68" y1="341.77" x2="149.68" y2="355.54" stroke="#76009E" stroke-width="1.2" />
<line x1="147.18" y1="341.77" x2="152.18" y2="341.77" stroke="#76009E" stroke-width="1.2" />
<line x1="147.18" y1="355.54" x2="152.18" y2="355.54" stroke="#76009E" stroke-width="1.2" />
<rect x="146.78" y="345.75" width="5.8" height="5.8" fill="#fff" stroke="#76009E" stroke-width="2.0"/>
<line x1="162.08" y1="363.69" x2="162.08" y2="372.88" stroke="#76009E" stroke-width="1.2" />
<line x1="159.58" y1="363.69" x2="164.58" y2="363.69" stroke="#76009E" stroke-width="1.2" />
<line x1="159.58" y1="372.88" x2="164.58" y2="372.88" stroke="#76009E" stroke-width="1.2" />
<rect x="159.18" y="365.38" width="5.8" height="5.8" fill="#fff" stroke="#76009E" stroke-width="2.0"/>
<line x1="174.49" y1="377.7" x2="174.49" y2="382.29" stroke="#76009E" stroke-width="1.2" />
<line x1="171.99" y1="377.7" x2="176.99" y2="377.7" stroke="#76009E" stroke-width="1.2" />
<line x1="171.99" y1="382.29" x2="176.99" y2="382.29" stroke="#76009E" stroke-width="1.2" />
<rect x="171.59" y="377.09" width="5.8" height="5.8" fill="#fff" stroke="#76009E" stroke-width="2.0"/>
<rect x="183.99" y="385.13" width="5.8" height="5.8" fill="#fff" stroke="#76009E" stroke-width="2.0"/>
<rect x="196.4" y="388.8" width="5.8" height="5.8" fill="#fff" stroke="#76009E" stroke-width="2.0"/>
<rect x="98.15" y="270.7" width="6.2" height="6.2" fill="#76009E"/>
<rect x="110.55" y="272.2" width="6.2" height="6.2" fill="#76009E"/>
<rect x="122.96" y="272.2" width="6.2" height="6.2" fill="#76009E"/>
<rect x="135.36" y="275.76" width="6.2" height="6.2" fill="#76009E"/>
<rect x="147.77" y="281.04" width="6.2" height="6.2" fill="#76009E"/>
<rect x="160.17" y="287.46" width="6.2" height="6.2" fill="#76009E"/>
<rect x="172.58" y="292.29" width="6.2" height="6.2" fill="#76009E"/>
<rect x="184.98" y="303.65" width="6.2" height="6.2" fill="#76009E"/>
<rect x="197.39" y="313.52" width="6.2" height="6.2" fill="#76009E"/>
<rect x="209.79" y="330.51" width="6.2" height="6.2" fill="#76009E"/>
<line x1="225.3" y1="347.39" x2="225.3" y2="354.28" stroke="#76009E" stroke-width="1.2" />
<line x1="222.8" y1="347.39" x2="227.8" y2="347.39" stroke="#76009E" stroke-width="1.2" />
<line x1="222.8" y1="354.28" x2="227.8" y2="354.28" stroke="#76009E" stroke-width="1.2" />
<rect x="222.2" y="347.73" width="6.2" height="6.2" fill="#76009E"/>
<line x1="240" y1="293.4" x2="261" y2="293.4" stroke="#76009E" stroke-width="1.4" />
<rect x="247.5" y="290.3" width="6.2" height="6.2" fill="#76009E"/>
<text transform="translate(273.4,297.1) scale(0.94,1)" text-anchor="start" font-size="10.2" fill="#000" >MRTX1719, WT</text>
<line x1="240" y1="309.7" x2="261" y2="309.7" stroke="#76009E" stroke-width="1.4" />
<rect x="247.7" y="306.8" width="5.8" height="5.8" fill="#fff" stroke="#76009E" stroke-width="2.0"/>
<text transform="translate(273.4,313.4) scale(0.94,1)" text-anchor="start" font-size="10.2" fill="#000" >MRTX1719, MTAP<tspan font-size="7" dy="-3.9">-/-</tspan></text>
<line x1="240" y1="329.2" x2="261" y2="329.2" stroke="#A4A4A4" stroke-width="1.4" />
<circle cx="250.6" cy="329.2" r="3.1" fill="#A4A4A4"/>
<text transform="translate(273.4,332.9) scale(0.94,1)" text-anchor="start" font-size="10.2" fill="#000" >GSK3326595, WT</text>
<line x1="240" y1="343" x2="261" y2="343" stroke="#888" stroke-width="1.4" />
<circle cx="250.6" cy="343" r="2.85" fill="#9a9a9a" stroke="#5E5E5E" stroke-width="1.9"/>
<line x1="247.5" y1="343" x2="253.7" y2="343" stroke="#bbb" stroke-width="1.0" />
<text transform="translate(273.4,346.7) scale(0.94,1)" text-anchor="start" font-size="10.2" fill="#000" >GSK3326595, MTAP<tspan font-size="7" dy="-3.9">-/-</tspan></text>
<text transform="translate(353.4,237.6) scale(0.94,1)" text-anchor="start" font-size="10.2" fill="#000" >D)</text>
<text transform="translate(525.2,245.3) scale(0.94,1)" text-anchor="middle" font-size="10.2" fill="#000" >HCT116 Wild-type</text>
<line x1="420.5" y1="264.4" x2="420.5" y2="402.5" stroke="#000" stroke-width="1.4" />
<line x1="420.5" y1="401.8" x2="628" y2="401.8" stroke="#000" stroke-width="1.4" />
<line x1="415" y1="390.5" x2="420.5" y2="390.5" stroke="#000" stroke-width="1.3" />
<text transform="translate(413.2,394.2) scale(0.94,1)" text-anchor="end" font-size="10.2" fill="#000" >0</text>
<line x1="415" y1="333.4" x2="420.5" y2="333.4" stroke="#000" stroke-width="1.3" />
<text transform="translate(413.2,337.1) scale(0.94,1)" text-anchor="end" font-size="10.2" fill="#000" >50</text>
<line x1="415" y1="276.3" x2="420.5" y2="276.3" stroke="#000" stroke-width="1.3" />
<text transform="translate(413.2,280) scale(0.94,1)" text-anchor="end" font-size="10.2" fill="#000" >100</text>
<line x1="420.5" y1="401.8" x2="420.5" y2="407" stroke="#000" stroke-width="1.3" />
<text transform="translate(420.5,418.9)" text-anchor="middle" font-size="9.4">10<tspan font-size="6.4" dx="0.6" dy="-3.3">-6</tspan></text>
<line x1="472.23" y1="401.8" x2="472.23" y2="407" stroke="#000" stroke-width="1.3" />
<text transform="translate(472.23,418.9)" text-anchor="middle" font-size="9.4">10<tspan font-size="6.4" dx="0.6" dy="-3.3">-4</tspan></text>
<line x1="523.95" y1="401.8" x2="523.95" y2="407" stroke="#000" stroke-width="1.3" />
<text transform="translate(523.95,418.9)" text-anchor="middle" font-size="9.4">10<tspan font-size="6.4" dx="0.6" dy="-3.3">-2</tspan></text>
<line x1="575.67" y1="401.8" x2="575.67" y2="407" stroke="#000" stroke-width="1.3" />
<text transform="translate(575.67,418.9)" text-anchor="middle" font-size="9.4">10<tspan font-size="6.4" dx="0.6" dy="-3.3">0</tspan></text>
<line x1="627.4" y1="401.8" x2="627.4" y2="407" stroke="#000" stroke-width="1.3" />
<text transform="translate(627.4,418.9)" text-anchor="middle" font-size="9.4">10<tspan font-size="6.4" dx="0.6" dy="-3.3">2</tspan></text>
<text transform="translate(523.8,434) scale(0.94,1)" text-anchor="middle" font-size="10.2" fill="#000" >[MRTX1719], μM</text>
<text transform="translate(390.2,333.5) rotate(-90) scale(0.94,1)" text-anchor="middle" font-size="10.2" fill="#000" >Normalized BRET (%)</text>
<line x1="425.6" y1="390.5" x2="628" y2="390.5" stroke="#000" stroke-width="2" stroke-dasharray="2 4.04"/>
<text transform="translate(625.9,266.5) scale(0.94,1)" text-anchor="start" font-size="10.2" fill="#000" >[MTA], μM</text>
<line x1="627.5" y1="278" x2="648.8" y2="278" stroke="#F23CD6" stroke-width="1.4" />
<circle cx="638" cy="278" r="3.2" fill="#F23CD6"/>
<text transform="translate(661.5,281.7) scale(0.94,1)" text-anchor="start" font-size="10.2" fill="#000" >100</text>
<line x1="627.5" y1="291.85" x2="648.8" y2="291.85" stroke="#E21EC4" stroke-width="1.4" />
<circle cx="638" cy="291.85" r="3.2" fill="#E21EC4"/>
<text transform="translate(661.5,295.55) scale(0.94,1)" text-anchor="start" font-size="10.2" fill="#000" >25</text>
<line x1="627.5" y1="305.7" x2="648.8" y2="305.7" stroke="#C42AA6" stroke-width="1.4" />
<circle cx="638" cy="305.7" r="3.2" fill="#C42AA6"/>
<text transform="translate(661.5,309.4) scale(0.94,1)" text-anchor="start" font-size="10.2" fill="#000" >6.25</text>
<line x1="627.5" y1="319.55" x2="648.8" y2="319.55" stroke="#9C2488" stroke-width="1.4" />
<circle cx="638" cy="319.55" r="3.2" fill="#9C2488"/>
<text transform="translate(661.5,323.25) scale(0.94,1)" text-anchor="start" font-size="10.2" fill="#000" >1.56</text>
<line x1="627.5" y1="333.4" x2="648.8" y2="333.4" stroke="#6C3062" stroke-width="1.4" />
<circle cx="638" cy="333.4" r="3.2" fill="#6C3062"/>
<text transform="translate(661.5,337.1) scale(0.94,1)" text-anchor="start" font-size="10.2" fill="#000" >0.39</text>
<line x1="627.5" y1="347.25" x2="648.8" y2="347.25" stroke="#78506F" stroke-width="1.4" />
<circle cx="638" cy="347.25" r="3.2" fill="#78506F"/>
<text transform="translate(661.5,350.95) scale(0.94,1)" text-anchor="start" font-size="10.2" fill="#000" >0.098</text>
<line x1="627.5" y1="361.1" x2="648.8" y2="361.1" stroke="#4E4E4E" stroke-width="1.4" />
<circle cx="638" cy="361.1" r="3.2" fill="#4E4E4E"/>
<text transform="translate(661.5,364.8) scale(0.94,1)" text-anchor="start" font-size="10.2" fill="#000" >0.024</text>
<line x1="627.5" y1="374.95" x2="648.8" y2="374.95" stroke="#000000" stroke-width="1.4" />
<circle cx="638" cy="374.95" r="3.2" fill="#000000"/>
<text transform="translate(661.5,378.65) scale(0.94,1)" text-anchor="start" font-size="10.2" fill="#000" >0</text>
<path d="M478.14 279.24L479.7 279.41L481.27 279.61L482.83 279.81L484.39 280.03L485.95 280.26L487.51 280.51L489.08 280.78L490.64 281.07L492.2 281.37L493.76 281.7L495.32 282.05L496.89 282.42L498.45 282.81L500.01 283.23L501.57 283.68L503.13 284.16L504.7 284.66L506.26 285.2L507.82 285.77L509.38 286.37L510.94 287.01L512.51 287.68L514.07 288.39L515.63 289.15L517.19 289.94L518.75 290.77L520.32 291.65L521.88 292.57L523.44 293.54L525 294.55L526.56 295.6L528.12 296.7L529.69 297.85L531.25 299.04L532.81 300.28L534.37 301.56L535.93 302.88L537.5 304.24L539.06 305.65L540.62 307.08L542.18 308.56L543.74 310.07L545.31 311.6L546.87 313.16L548.43 314.75L549.99 316.35L551.55 317.97L553.12 319.59L554.68 321.23L556.24 322.86L557.8 324.49L559.36 326.12L560.93 327.74L562.49 329.34L564.05 330.92L565.61 332.48L567.17 334.01L568.74 335.52L570.3 336.99L571.86 338.43L573.42 339.83L574.98 341.19L576.55 342.51L578.11 343.79L579.67 345.02L581.23 346.21L582.79 347.35L584.36 348.45L585.92 349.5L587.48 350.51L589.04 351.47L590.6 352.39L592.17 353.26L593.73 354.1L595.29 354.89L596.85 355.64L598.41 356.35L599.98 357.02L601.54 357.65" fill="none" stroke="#000000" stroke-width="1.3"/>
<path d="M478.14 279.17L479.7 279.41L481.27 279.68L482.83 279.96L484.39 280.26L485.95 280.57L487.51 280.9L489.08 281.26L490.64 281.63L492.2 282.03L493.76 282.45L495.32 282.9L496.89 283.37L498.45 283.86L500.01 284.39L501.57 284.94L503.13 285.52L504.7 286.14L506.26 286.78L507.82 287.46L509.38 288.18L510.94 288.92L512.51 289.71L514.07 290.53L515.63 291.4L517.19 292.3L518.75 293.24L520.32 294.22L521.88 295.24L523.44 296.3L525 297.4L526.56 298.55L528.12 299.74L529.69 300.96L531.25 302.23L532.81 303.53L534.37 304.87L535.93 306.25L537.5 307.67L539.06 309.11L540.62 310.59L542.18 312.1L543.74 313.64L545.31 315.19L546.87 316.77L548.43 318.37L549.99 319.98L551.55 321.61L553.12 323.24L554.68 324.88L556.24 326.52L557.8 328.15L559.36 329.78L560.93 331.41L562.49 333.02L564.05 334.61L565.61 336.19L567.17 337.74L568.74 339.27L570.3 340.77L571.86 342.25L573.42 343.69L574.98 345.1L576.55 346.47L578.11 347.81L579.67 349.11L581.23 350.37L582.79 351.59L584.36 352.77L585.92 353.9L587.48 355L589.04 356.06L590.6 357.07L592.17 358.05L593.73 358.98L595.29 359.87L596.85 360.73L598.41 361.55L599.98 362.33L601.54 363.07" fill="none" stroke="#4E4E4E" stroke-width="1.3"/>
<path d="M478.14 279.64L479.7 279.93L481.27 280.25L482.83 280.58L484.39 280.93L485.95 281.3L487.51 281.7L489.08 282.12L490.64 282.56L492.2 283.03L493.76 283.53L495.32 284.05L496.89 284.61L498.45 285.2L500.01 285.81L501.57 286.47L503.13 287.15L504.7 287.87L506.26 288.63L507.82 289.43L509.38 290.27L510.94 291.14L512.51 292.06L514.07 293.02L515.63 294.02L517.19 295.06L518.75 296.15L520.32 297.28L521.88 298.45L523.44 299.67L525 300.93L526.56 302.23L528.12 303.57L529.69 304.96L531.25 306.38L532.81 307.84L534.37 309.33L535.93 310.86L537.5 312.42L539.06 314L540.62 315.61L542.18 317.25L543.74 318.9L545.31 320.57L546.87 322.25L548.43 323.94L549.99 325.63L551.55 327.33L553.12 329.02L554.68 330.71L556.24 332.39L557.8 334.05L559.36 335.7L560.93 337.32L562.49 338.93L564.05 340.5L565.61 342.05L567.17 343.57L568.74 345.05L570.3 346.49L571.86 347.9L573.42 349.27L574.98 350.6L576.55 351.89L578.11 353.13L579.67 354.33L581.23 355.49L582.79 356.61L584.36 357.68L585.92 358.71L587.48 359.69L589.04 360.64L590.6 361.54L592.17 362.4L593.73 363.23L595.29 364.01L596.85 364.76L598.41 365.47L599.98 366.14L601.54 366.78" fill="none" stroke="#78506F" stroke-width="1.3"/>
<path d="M478.14 280.19L479.7 280.59L481.27 281.01L482.83 281.46L484.39 281.95L485.95 282.46L487.51 283.01L489.08 283.59L490.64 284.21L492.2 284.87L493.76 285.57L495.32 286.31L496.89 287.1L498.45 287.93L500.01 288.81L501.57 289.73L503.13 290.71L504.7 291.73L506.26 292.81L507.82 293.94L509.38 295.12L510.94 296.36L512.51 297.65L514.07 299L515.63 300.4L517.19 301.85L518.75 303.36L520.32 304.91L521.88 306.51L523.44 308.16L525 309.85L526.56 311.58L528.12 313.35L529.69 315.15L531.25 316.98L532.81 318.83L534.37 320.7L535.93 322.59L537.5 324.48L539.06 326.38L540.62 328.28L542.18 330.17L543.74 332.06L545.31 333.92L546.87 335.77L548.43 337.59L549.99 339.38L551.55 341.13L553.12 342.85L554.68 344.53L556.24 346.16L557.8 347.75L559.36 349.28L560.93 350.77L562.49 352.21L564.05 353.59L565.61 354.92L567.17 356.19L568.74 357.41L570.3 358.58L571.86 359.69L573.42 360.75L574.98 361.76L576.55 362.72L578.11 363.63L579.67 364.49L581.23 365.31L582.79 366.08L584.36 366.81L585.92 367.49L587.48 368.14L589.04 368.75L590.6 369.32L592.17 369.86L593.73 370.36L595.29 370.84L596.85 371.28L598.41 371.7L599.98 372.08L601.54 372.45" fill="none" stroke="#6C3062" stroke-width="1.3"/>
<path d="M478.14 281.69L479.7 282.08L481.27 282.51L482.83 282.98L484.39 283.49L485.95 284.05L487.51 284.66L489.08 285.33L490.64 286.06L492.2 286.86L493.76 287.73L495.32 288.66L496.89 289.68L498.45 290.79L500.01 291.98L501.57 293.26L503.13 294.63L504.7 296.11L506.26 297.69L507.82 299.37L509.38 301.16L510.94 303.05L512.51 305.04L514.07 307.14L515.63 309.34L517.19 311.63L518.75 314.01L520.32 316.46L521.88 318.99L523.44 321.58L525 324.22L526.56 326.89L528.12 329.59L529.69 332.3L531.25 335L532.81 337.69L534.37 340.35L535.93 342.96L537.5 345.52L539.06 348.01L540.62 350.43L542.18 352.76L543.74 355L545.31 357.15L546.87 359.19L548.43 361.13L549.99 362.97L551.55 364.7L553.12 366.33L554.68 367.86L556.24 369.28L557.8 370.61L559.36 371.84L560.93 372.98L562.49 374.04L564.05 375.02L565.61 375.92L567.17 376.75L568.74 377.51L570.3 378.21L571.86 378.85L573.42 379.43L574.98 379.97L576.55 380.46L578.11 380.9L579.67 381.31L581.23 381.68L582.79 382.02L584.36 382.32L585.92 382.6L587.48 382.85L589.04 383.08L590.6 383.29L592.17 383.48L593.73 383.65L595.29 383.81L596.85 383.95L598.41 384.08L599.98 384.2L601.54 384.3" fill="none" stroke="#9C2488" stroke-width="1.3"/>
<path d="M478.14 280.88L479.7 281.92L481.27 283.07L482.83 284.33L484.39 285.72L485.95 287.24L487.51 288.9L489.08 290.71L490.64 292.68L492.2 294.8L493.76 297.08L495.32 299.52L496.89 302.13L498.45 304.89L500.01 307.79L501.57 310.84L503.13 314.01L504.7 317.29L506.26 320.66L507.82 324.1L509.38 327.59L510.94 331.09L512.51 334.6L514.07 338.08L515.63 341.5L517.19 344.85L518.75 348.11L520.32 351.25L521.88 354.26L523.44 357.13L525 359.86L526.56 362.42L528.12 364.82L529.69 367.07L531.25 369.15L532.81 371.07L534.37 372.85L535.93 374.48L537.5 375.96L539.06 377.32L540.62 378.56L542.18 379.68L543.74 380.69L545.31 381.61L546.87 382.43L548.43 383.18L549.99 383.84L551.55 384.44L553.12 384.98L554.68 385.46L556.24 385.89L557.8 386.27L559.36 386.62L560.93 386.92L562.49 387.2L564.05 387.44L565.61 387.66L567.17 387.85L568.74 388.02L570.3 388.17L571.86 388.31L573.42 388.43L574.98 388.54L576.55 388.63L578.11 388.72L579.67 388.8L581.23 388.86L582.79 388.92L584.36 388.97L585.92 389.02L587.48 389.06L589.04 389.1L590.6 389.13L592.17 389.16L593.73 389.19L595.29 389.21L596.85 389.23L598.41 389.25L599.98 389.27L601.54 389.28" fill="none" stroke="#C42AA6" stroke-width="1.3"/>
<path d="M478.14 283.68L479.7 284.83L481.27 286.14L482.83 287.64L484.39 289.33L485.95 291.23L487.51 293.37L489.08 295.76L490.64 298.4L492.2 301.3L493.76 304.47L495.32 307.89L496.89 311.56L498.45 315.44L500.01 319.51L501.57 323.72L503.13 328.04L504.7 332.41L506.26 336.78L507.82 341.1L509.38 345.31L510.94 349.37L512.51 353.25L514.07 356.9L515.63 360.31L517.19 363.46L518.75 366.35L520.32 368.98L521.88 371.35L523.44 373.48L525 375.38L526.56 377.06L528.12 378.54L529.69 379.85L531.25 380.99L532.81 381.99L534.37 382.85L535.93 383.61L537.5 384.26L539.06 384.82L540.62 385.31L542.18 385.73L543.74 386.09L545.31 386.41L546.87 386.67L548.43 386.9L549.99 387.1L551.55 387.27L553.12 387.41L554.68 387.54L556.24 387.65L557.8 387.74L559.36 387.82L560.93 387.88L562.49 387.94L564.05 387.99L565.61 388.03L567.17 388.07L568.74 388.1L570.3 388.12L571.86 388.15L573.42 388.17L574.98 388.18L576.55 388.2L578.11 388.21L579.67 388.22L581.23 388.23L582.79 388.23L584.36 388.24L585.92 388.25L587.48 388.25L589.04 388.26L590.6 388.26L592.17 388.26L593.73 388.26L595.29 388.27L596.85 388.27L598.41 388.27L599.98 388.27L601.54 388.27" fill="none" stroke="#E21EC4" stroke-width="1.3"/>
<path d="M478.14 288.57L479.7 289.51L481.27 290.6L482.83 291.86L484.39 293.31L485.95 294.97L487.51 296.85L489.08 298.99L490.64 301.4L492.2 304.09L493.76 307.06L495.32 310.32L496.89 313.85L498.45 317.65L500.01 321.68L501.57 325.89L503.13 330.25L504.7 334.69L506.26 339.16L507.82 343.59L509.38 347.92L510.94 352.09L512.51 356.07L514.07 359.81L515.63 363.28L517.19 366.47L518.75 369.38L520.32 372L521.88 374.34L523.44 376.42L525 378.25L526.56 379.86L528.12 381.26L529.69 382.48L531.25 383.54L532.81 384.44L534.37 385.23L535.93 385.9L537.5 386.47L539.06 386.96L540.62 387.38L542.18 387.74L543.74 388.04L545.31 388.3L546.87 388.52L548.43 388.7L549.99 388.86L551.55 388.99L553.12 389.11L554.68 389.2L556.24 389.29L557.8 389.35L559.36 389.41L560.93 389.46L562.49 389.5L564.05 389.54L565.61 389.57L567.17 389.59L568.74 389.62L570.3 389.63L571.86 389.65L573.42 389.66L574.98 389.67L576.55 389.68L578.11 389.69L579.67 389.7L581.23 389.7L582.79 389.71L584.36 389.71L585.92 389.72L587.48 389.72L589.04 389.72L590.6 389.72L592.17 389.72L593.73 389.73L595.29 389.73L596.85 389.73L598.41 389.73L599.98 389.73L601.54 389.73" fill="none" stroke="#F23CD6" stroke-width="1.3"/>
<line x1="478.14" y1="277.44" x2="478.14" y2="284.29" stroke="#000000" stroke-width="1.2" />
<line x1="475.64" y1="277.44" x2="480.64" y2="277.44" stroke="#000000" stroke-width="1.2" />
<line x1="475.64" y1="284.29" x2="480.64" y2="284.29" stroke="#000000" stroke-width="1.2" />
<line x1="490.48" y1="274.02" x2="490.48" y2="285.44" stroke="#000000" stroke-width="1.2" />
<line x1="487.98" y1="274.02" x2="492.98" y2="274.02" stroke="#000000" stroke-width="1.2" />
<line x1="487.98" y1="285.44" x2="492.98" y2="285.44" stroke="#000000" stroke-width="1.2" />
<line x1="502.82" y1="279.73" x2="502.82" y2="288.86" stroke="#000000" stroke-width="1.2" />
<line x1="500.32" y1="279.73" x2="505.32" y2="279.73" stroke="#000000" stroke-width="1.2" />
<line x1="500.32" y1="288.86" x2="505.32" y2="288.86" stroke="#000000" stroke-width="1.2" />
<line x1="515.16" y1="283.95" x2="515.16" y2="293.09" stroke="#000000" stroke-width="1.2" />
<line x1="512.66" y1="283.95" x2="517.66" y2="283.95" stroke="#000000" stroke-width="1.2" />
<line x1="512.66" y1="293.09" x2="517.66" y2="293.09" stroke="#000000" stroke-width="1.2" />
<line x1="527.5" y1="290.23" x2="527.5" y2="299.37" stroke="#000000" stroke-width="1.2" />
<line x1="525" y1="290.23" x2="530" y2="290.23" stroke="#000000" stroke-width="1.2" />
<line x1="525" y1="299.37" x2="530" y2="299.37" stroke="#000000" stroke-width="1.2" />
<line x1="539.84" y1="303.02" x2="539.84" y2="309.87" stroke="#000000" stroke-width="1.2" />
<line x1="537.34" y1="303.02" x2="542.34" y2="303.02" stroke="#000000" stroke-width="1.2" />
<line x1="537.34" y1="309.87" x2="542.34" y2="309.87" stroke="#000000" stroke-width="1.2" />
<line x1="552.18" y1="318.1" x2="552.18" y2="324.95" stroke="#000000" stroke-width="1.2" />
<line x1="549.68" y1="318.1" x2="554.68" y2="318.1" stroke="#000000" stroke-width="1.2" />
<line x1="549.68" y1="324.95" x2="554.68" y2="324.95" stroke="#000000" stroke-width="1.2" />
<line x1="564.52" y1="328.26" x2="564.52" y2="332.83" stroke="#000000" stroke-width="1.2" />
<line x1="562.02" y1="328.26" x2="567.02" y2="328.26" stroke="#000000" stroke-width="1.2" />
<line x1="562.02" y1="332.83" x2="567.02" y2="332.83" stroke="#000000" stroke-width="1.2" />
<line x1="576.86" y1="339.11" x2="576.86" y2="343.68" stroke="#000000" stroke-width="1.2" />
<line x1="574.36" y1="339.11" x2="579.36" y2="339.11" stroke="#000000" stroke-width="1.2" />
<line x1="574.36" y1="343.68" x2="579.36" y2="343.68" stroke="#000000" stroke-width="1.2" />
<line x1="589.2" y1="348.7" x2="589.2" y2="353.27" stroke="#000000" stroke-width="1.2" />
<line x1="586.7" y1="348.7" x2="591.7" y2="348.7" stroke="#000000" stroke-width="1.2" />
<line x1="586.7" y1="353.27" x2="591.7" y2="353.27" stroke="#000000" stroke-width="1.2" />
<line x1="601.54" y1="356.47" x2="601.54" y2="361.04" stroke="#000000" stroke-width="1.2" />
<line x1="599.04" y1="356.47" x2="604.04" y2="356.47" stroke="#000000" stroke-width="1.2" />
<line x1="599.04" y1="361.04" x2="604.04" y2="361.04" stroke="#000000" stroke-width="1.2" />
<rect x="475.14" y="277.87" width="6" height="6" fill="#000000"/>
<rect x="487.48" y="276.73" width="6" height="6" fill="#000000"/>
<rect x="499.82" y="281.29" width="6" height="6" fill="#000000"/>
<rect x="512.16" y="285.52" width="6" height="6" fill="#000000"/>
<rect x="524.5" y="291.8" width="6" height="6" fill="#000000"/>
<rect x="536.84" y="303.45" width="6" height="6" fill="#000000"/>
<rect x="549.18" y="318.52" width="6" height="6" fill="#000000"/>
<rect x="561.52" y="327.55" width="6" height="6" fill="#000000"/>
<rect x="573.86" y="338.39" width="6" height="6" fill="#000000"/>
<rect x="586.2" y="347.99" width="6" height="6" fill="#000000"/>
<rect x="598.54" y="355.75" width="6" height="6" fill="#000000"/>
<line x1="478.14" y1="277.44" x2="478.14" y2="284.29" stroke="#4E4E4E" stroke-width="1.2" />
<line x1="475.64" y1="277.44" x2="480.64" y2="277.44" stroke="#4E4E4E" stroke-width="1.2" />
<line x1="475.64" y1="284.29" x2="480.64" y2="284.29" stroke="#4E4E4E" stroke-width="1.2" />
<line x1="490.48" y1="275.16" x2="490.48" y2="286.58" stroke="#4E4E4E" stroke-width="1.2" />
<line x1="487.98" y1="275.16" x2="492.98" y2="275.16" stroke="#4E4E4E" stroke-width="1.2" />
<line x1="487.98" y1="286.58" x2="492.98" y2="286.58" stroke="#4E4E4E" stroke-width="1.2" />
<line x1="502.82" y1="280.87" x2="502.82" y2="290" stroke="#4E4E4E" stroke-width="1.2" />
<line x1="500.32" y1="280.87" x2="505.32" y2="280.87" stroke="#4E4E4E" stroke-width="1.2" />
<line x1="500.32" y1="290" x2="505.32" y2="290" stroke="#4E4E4E" stroke-width="1.2" />
<line x1="515.16" y1="284.98" x2="515.16" y2="294.12" stroke="#4E4E4E" stroke-width="1.2" />
<line x1="512.66" y1="284.98" x2="517.66" y2="284.98" stroke="#4E4E4E" stroke-width="1.2" />
<line x1="512.66" y1="294.12" x2="517.66" y2="294.12" stroke="#4E4E4E" stroke-width="1.2" />
<line x1="527.5" y1="293.43" x2="527.5" y2="302.57" stroke="#4E4E4E" stroke-width="1.2" />
<line x1="525" y1="293.43" x2="530" y2="293.43" stroke="#4E4E4E" stroke-width="1.2" />
<line x1="525" y1="302.57" x2="530" y2="302.57" stroke="#4E4E4E" stroke-width="1.2" />
<line x1="539.84" y1="306.79" x2="539.84" y2="313.64" stroke="#4E4E4E" stroke-width="1.2" />
<line x1="537.34" y1="306.79" x2="542.34" y2="306.79" stroke="#4E4E4E" stroke-width="1.2" />
<line x1="537.34" y1="313.64" x2="542.34" y2="313.64" stroke="#4E4E4E" stroke-width="1.2" />
<line x1="552.18" y1="322.21" x2="552.18" y2="329.06" stroke="#4E4E4E" stroke-width="1.2" />
<line x1="549.68" y1="322.21" x2="554.68" y2="322.21" stroke="#4E4E4E" stroke-width="1.2" />
<line x1="549.68" y1="329.06" x2="554.68" y2="329.06" stroke="#4E4E4E" stroke-width="1.2" />
<line x1="564.52" y1="332.71" x2="564.52" y2="337.28" stroke="#4E4E4E" stroke-width="1.2" />
<line x1="562.02" y1="332.71" x2="567.02" y2="332.71" stroke="#4E4E4E" stroke-width="1.2" />
<line x1="562.02" y1="337.28" x2="567.02" y2="337.28" stroke="#4E4E4E" stroke-width="1.2" />
<line x1="576.86" y1="342.54" x2="576.86" y2="347.1" stroke="#4E4E4E" stroke-width="1.2" />
<line x1="574.36" y1="342.54" x2="579.36" y2="342.54" stroke="#4E4E4E" stroke-width="1.2" />
<line x1="574.36" y1="347.1" x2="579.36" y2="347.1" stroke="#4E4E4E" stroke-width="1.2" />
<line x1="589.2" y1="351.67" x2="589.2" y2="356.24" stroke="#4E4E4E" stroke-width="1.2" />
<line x1="586.7" y1="351.67" x2="591.7" y2="351.67" stroke="#4E4E4E" stroke-width="1.2" />
<line x1="586.7" y1="356.24" x2="591.7" y2="356.24" stroke="#4E4E4E" stroke-width="1.2" />
<line x1="601.54" y1="363.09" x2="601.54" y2="367.66" stroke="#4E4E4E" stroke-width="1.2" />
<line x1="599.04" y1="363.09" x2="604.04" y2="363.09" stroke="#4E4E4E" stroke-width="1.2" />
<line x1="599.04" y1="367.66" x2="604.04" y2="367.66" stroke="#4E4E4E" stroke-width="1.2" />
<rect x="475.14" y="277.87" width="6" height="6" fill="#4E4E4E"/>
<rect x="487.48" y="277.87" width="6" height="6" fill="#4E4E4E"/>
<rect x="499.82" y="282.44" width="6" height="6" fill="#4E4E4E"/>
<rect x="512.16" y="286.55" width="6" height="6" fill="#4E4E4E"/>
<rect x="524.5" y="295" width="6" height="6" fill="#4E4E4E"/>
<rect x="536.84" y="307.22" width="6" height="6" fill="#4E4E4E"/>
<rect x="549.18" y="322.63" width="6" height="6" fill="#4E4E4E"/>
<rect x="561.52" y="332" width="6" height="6" fill="#4E4E4E"/>
<rect x="573.86" y="341.82" width="6" height="6" fill="#4E4E4E"/>
<rect x="586.2" y="350.96" width="6" height="6" fill="#4E4E4E"/>
<rect x="598.54" y="362.38" width="6" height="6" fill="#4E4E4E"/>
<line x1="478.14" y1="277.44" x2="478.14" y2="284.29" stroke="#78506F" stroke-width="1.2" />
<line x1="475.64" y1="277.44" x2="480.64" y2="277.44" stroke="#78506F" stroke-width="1.2" />
<line x1="475.64" y1="284.29" x2="480.64" y2="284.29" stroke="#78506F" stroke-width="1.2" />
<line x1="490.48" y1="272.87" x2="490.48" y2="291.15" stroke="#78506F" stroke-width="1.2" />
<line x1="487.98" y1="272.87" x2="492.98" y2="272.87" stroke="#78506F" stroke-width="1.2" />
<line x1="487.98" y1="291.15" x2="492.98" y2="291.15" stroke="#78506F" stroke-width="1.2" />
<line x1="502.82" y1="282.01" x2="502.82" y2="293.43" stroke="#78506F" stroke-width="1.2" />
<line x1="500.32" y1="282.01" x2="505.32" y2="282.01" stroke="#78506F" stroke-width="1.2" />
<line x1="500.32" y1="293.43" x2="505.32" y2="293.43" stroke="#78506F" stroke-width="1.2" />
<line x1="515.16" y1="287.03" x2="515.16" y2="296.17" stroke="#78506F" stroke-width="1.2" />
<line x1="512.66" y1="287.03" x2="517.66" y2="287.03" stroke="#78506F" stroke-width="1.2" />
<line x1="512.66" y1="296.17" x2="517.66" y2="296.17" stroke="#78506F" stroke-width="1.2" />
<line x1="527.5" y1="298.8" x2="527.5" y2="305.65" stroke="#78506F" stroke-width="1.2" />
<line x1="525" y1="298.8" x2="530" y2="298.8" stroke="#78506F" stroke-width="1.2" />
<line x1="525" y1="305.65" x2="530" y2="305.65" stroke="#78506F" stroke-width="1.2" />
<line x1="539.84" y1="311.02" x2="539.84" y2="317.87" stroke="#78506F" stroke-width="1.2" />
<line x1="537.34" y1="311.02" x2="542.34" y2="311.02" stroke="#78506F" stroke-width="1.2" />
<line x1="537.34" y1="317.87" x2="542.34" y2="317.87" stroke="#78506F" stroke-width="1.2" />
<line x1="552.18" y1="327.92" x2="552.18" y2="334.77" stroke="#78506F" stroke-width="1.2" />
<line x1="549.68" y1="327.92" x2="554.68" y2="327.92" stroke="#78506F" stroke-width="1.2" />
<line x1="549.68" y1="334.77" x2="554.68" y2="334.77" stroke="#78506F" stroke-width="1.2" />
<line x1="564.52" y1="340.37" x2="564.52" y2="344.93" stroke="#78506F" stroke-width="1.2" />
<line x1="562.02" y1="340.37" x2="567.02" y2="340.37" stroke="#78506F" stroke-width="1.2" />
<line x1="562.02" y1="344.93" x2="567.02" y2="344.93" stroke="#78506F" stroke-width="1.2" />
<line x1="576.86" y1="346.53" x2="576.86" y2="351.1" stroke="#78506F" stroke-width="1.2" />
<line x1="574.36" y1="346.53" x2="579.36" y2="346.53" stroke="#78506F" stroke-width="1.2" />
<line x1="574.36" y1="351.1" x2="579.36" y2="351.1" stroke="#78506F" stroke-width="1.2" />
<line x1="589.2" y1="355.1" x2="589.2" y2="359.67" stroke="#78506F" stroke-width="1.2" />
<line x1="586.7" y1="355.1" x2="591.7" y2="355.1" stroke="#78506F" stroke-width="1.2" />
<line x1="586.7" y1="359.67" x2="591.7" y2="359.67" stroke="#78506F" stroke-width="1.2" />
<line x1="601.54" y1="368" x2="601.54" y2="372.57" stroke="#78506F" stroke-width="1.2" />
<line x1="599.04" y1="368" x2="604.04" y2="368" stroke="#78506F" stroke-width="1.2" />
<line x1="599.04" y1="372.57" x2="604.04" y2="372.57" stroke="#78506F" stroke-width="1.2" />
<circle cx="478.14" cy="280.87" r="3.2" fill="#78506F"/>
<circle cx="490.48" cy="282.01" r="3.2" fill="#78506F"/>
<circle cx="502.82" cy="287.72" r="3.2" fill="#78506F"/>
<circle cx="515.16" cy="291.6" r="3.2" fill="#78506F"/>
<circle cx="527.5" cy="302.22" r="3.2" fill="#78506F"/>
<circle cx="539.84" cy="314.44" r="3.2" fill="#78506F"/>
<circle cx="552.18" cy="331.34" r="3.2" fill="#78506F"/>
<circle cx="564.52" cy="342.65" r="3.2" fill="#78506F"/>
<circle cx="576.86" cy="348.82" r="3.2" fill="#78506F"/>
<circle cx="589.2" cy="357.38" r="3.2" fill="#78506F"/>
<circle cx="601.54" cy="370.29" r="3.2" fill="#78506F"/>
<line x1="478.14" y1="277.44" x2="478.14" y2="284.29" stroke="#6C3062" stroke-width="1.2" />
<line x1="475.64" y1="277.44" x2="480.64" y2="277.44" stroke="#6C3062" stroke-width="1.2" />
<line x1="475.64" y1="284.29" x2="480.64" y2="284.29" stroke="#6C3062" stroke-width="1.2" />
<line x1="490.48" y1="278.58" x2="490.48" y2="290" stroke="#6C3062" stroke-width="1.2" />
<line x1="487.98" y1="278.58" x2="492.98" y2="278.58" stroke="#6C3062" stroke-width="1.2" />
<line x1="487.98" y1="290" x2="492.98" y2="290" stroke="#6C3062" stroke-width="1.2" />
<line x1="502.82" y1="284.29" x2="502.82" y2="295.71" stroke="#6C3062" stroke-width="1.2" />
<line x1="500.32" y1="284.29" x2="505.32" y2="284.29" stroke="#6C3062" stroke-width="1.2" />
<line x1="500.32" y1="295.71" x2="505.32" y2="295.71" stroke="#6C3062" stroke-width="1.2" />
<line x1="515.16" y1="294.57" x2="515.16" y2="303.71" stroke="#6C3062" stroke-width="1.2" />
<line x1="512.66" y1="294.57" x2="517.66" y2="294.57" stroke="#6C3062" stroke-width="1.2" />
<line x1="512.66" y1="303.71" x2="517.66" y2="303.71" stroke="#6C3062" stroke-width="1.2" />
<line x1="527.5" y1="308.28" x2="527.5" y2="315.13" stroke="#6C3062" stroke-width="1.2" />
<line x1="525" y1="308.28" x2="530" y2="308.28" stroke="#6C3062" stroke-width="1.2" />
<line x1="525" y1="315.13" x2="530" y2="315.13" stroke="#6C3062" stroke-width="1.2" />
<line x1="539.84" y1="325.41" x2="539.84" y2="332.26" stroke="#6C3062" stroke-width="1.2" />
<line x1="537.34" y1="325.41" x2="542.34" y2="325.41" stroke="#6C3062" stroke-width="1.2" />
<line x1="537.34" y1="332.26" x2="542.34" y2="332.26" stroke="#6C3062" stroke-width="1.2" />
<line x1="552.18" y1="339.91" x2="552.18" y2="346.76" stroke="#6C3062" stroke-width="1.2" />
<line x1="549.68" y1="339.91" x2="554.68" y2="339.91" stroke="#6C3062" stroke-width="1.2" />
<line x1="549.68" y1="346.76" x2="554.68" y2="346.76" stroke="#6C3062" stroke-width="1.2" />
<line x1="564.52" y1="351.67" x2="564.52" y2="356.24" stroke="#6C3062" stroke-width="1.2" />
<line x1="562.02" y1="351.67" x2="567.02" y2="351.67" stroke="#6C3062" stroke-width="1.2" />
<line x1="562.02" y1="356.24" x2="567.02" y2="356.24" stroke="#6C3062" stroke-width="1.2" />
<line x1="576.86" y1="358.07" x2="576.86" y2="362.64" stroke="#6C3062" stroke-width="1.2" />
<line x1="574.36" y1="358.07" x2="579.36" y2="358.07" stroke="#6C3062" stroke-width="1.2" />
<line x1="574.36" y1="362.64" x2="579.36" y2="362.64" stroke="#6C3062" stroke-width="1.2" />
<line x1="589.2" y1="364.69" x2="589.2" y2="369.26" stroke="#6C3062" stroke-width="1.2" />
<line x1="586.7" y1="364.69" x2="591.7" y2="364.69" stroke="#6C3062" stroke-width="1.2" />
<line x1="586.7" y1="369.26" x2="591.7" y2="369.26" stroke="#6C3062" stroke-width="1.2" />
<line x1="601.54" y1="373.03" x2="601.54" y2="377.6" stroke="#6C3062" stroke-width="1.2" />
<line x1="599.04" y1="373.03" x2="604.04" y2="373.03" stroke="#6C3062" stroke-width="1.2" />
<line x1="599.04" y1="377.6" x2="604.04" y2="377.6" stroke="#6C3062" stroke-width="1.2" />
<rect x="475.14" y="277.87" width="6" height="6" fill="#6C3062"/>
<rect x="487.48" y="281.29" width="6" height="6" fill="#6C3062"/>
<rect x="499.82" y="287" width="6" height="6" fill="#6C3062"/>
<rect x="512.16" y="296.14" width="6" height="6" fill="#6C3062"/>
<rect x="524.5" y="308.7" width="6" height="6" fill="#6C3062"/>
<rect x="536.84" y="325.83" width="6" height="6" fill="#6C3062"/>
<rect x="549.18" y="340.34" width="6" height="6" fill="#6C3062"/>
<rect x="561.52" y="350.96" width="6" height="6" fill="#6C3062"/>
<rect x="573.86" y="357.35" width="6" height="6" fill="#6C3062"/>
<rect x="586.2" y="363.97" width="6" height="6" fill="#6C3062"/>
<rect x="598.54" y="372.31" width="6" height="6" fill="#6C3062"/>
<line x1="478.14" y1="278.58" x2="478.14" y2="285.44" stroke="#9C2488" stroke-width="1.2" />
<line x1="475.64" y1="278.58" x2="480.64" y2="278.58" stroke="#9C2488" stroke-width="1.2" />
<line x1="475.64" y1="285.44" x2="480.64" y2="285.44" stroke="#9C2488" stroke-width="1.2" />
<line x1="490.48" y1="282.01" x2="490.48" y2="291.15" stroke="#9C2488" stroke-width="1.2" />
<line x1="487.98" y1="282.01" x2="492.98" y2="282.01" stroke="#9C2488" stroke-width="1.2" />
<line x1="487.98" y1="291.15" x2="492.98" y2="291.15" stroke="#9C2488" stroke-width="1.2" />
<line x1="502.82" y1="286.58" x2="502.82" y2="298" stroke="#9C2488" stroke-width="1.2" />
<line x1="500.32" y1="286.58" x2="505.32" y2="286.58" stroke="#9C2488" stroke-width="1.2" />
<line x1="500.32" y1="298" x2="505.32" y2="298" stroke="#9C2488" stroke-width="1.2" />
<line x1="515.16" y1="305.99" x2="515.16" y2="315.13" stroke="#9C2488" stroke-width="1.2" />
<line x1="512.66" y1="305.99" x2="517.66" y2="305.99" stroke="#9C2488" stroke-width="1.2" />
<line x1="512.66" y1="315.13" x2="517.66" y2="315.13" stroke="#9C2488" stroke-width="1.2" />
<line x1="527.5" y1="323.58" x2="527.5" y2="330.43" stroke="#9C2488" stroke-width="1.2" />
<line x1="525" y1="323.58" x2="530" y2="323.58" stroke="#9C2488" stroke-width="1.2" />
<line x1="525" y1="330.43" x2="530" y2="330.43" stroke="#9C2488" stroke-width="1.2" />
<line x1="539.84" y1="345.96" x2="539.84" y2="355.1" stroke="#9C2488" stroke-width="1.2" />
<line x1="537.34" y1="345.96" x2="542.34" y2="345.96" stroke="#9C2488" stroke-width="1.2" />
<line x1="537.34" y1="355.1" x2="542.34" y2="355.1" stroke="#9C2488" stroke-width="1.2" />
<line x1="552.18" y1="361.95" x2="552.18" y2="368.8" stroke="#9C2488" stroke-width="1.2" />
<line x1="549.68" y1="361.95" x2="554.68" y2="361.95" stroke="#9C2488" stroke-width="1.2" />
<line x1="549.68" y1="368.8" x2="554.68" y2="368.8" stroke="#9C2488" stroke-width="1.2" />
<line x1="564.52" y1="372.23" x2="564.52" y2="376.8" stroke="#9C2488" stroke-width="1.2" />
<line x1="562.02" y1="372.23" x2="567.02" y2="372.23" stroke="#9C2488" stroke-width="1.2" />
<line x1="562.02" y1="376.8" x2="567.02" y2="376.8" stroke="#9C2488" stroke-width="1.2" />
<line x1="576.86" y1="377.94" x2="576.86" y2="382.51" stroke="#9C2488" stroke-width="1.2" />
<line x1="574.36" y1="377.94" x2="579.36" y2="377.94" stroke="#9C2488" stroke-width="1.2" />
<line x1="574.36" y1="382.51" x2="579.36" y2="382.51" stroke="#9C2488" stroke-width="1.2" />
<line x1="589.2" y1="379.65" x2="589.2" y2="384.22" stroke="#9C2488" stroke-width="1.2" />
<line x1="586.7" y1="379.65" x2="591.7" y2="379.65" stroke="#9C2488" stroke-width="1.2" />
<line x1="586.7" y1="384.22" x2="591.7" y2="384.22" stroke="#9C2488" stroke-width="1.2" />
<circle cx="478.14" cy="282.01" r="3.2" fill="#9C2488"/>
<circle cx="490.48" cy="286.58" r="3.2" fill="#9C2488"/>
<circle cx="502.82" cy="292.29" r="3.2" fill="#9C2488"/>
<circle cx="515.16" cy="310.56" r="3.2" fill="#9C2488"/>
<circle cx="527.5" cy="327" r="3.2" fill="#9C2488"/>
<circle cx="539.84" cy="350.53" r="3.2" fill="#9C2488"/>
<circle cx="552.18" cy="365.38" r="3.2" fill="#9C2488"/>
<circle cx="564.52" cy="374.51" r="3.2" fill="#9C2488"/>
<circle cx="576.86" cy="380.22" r="3.2" fill="#9C2488"/>
<circle cx="589.2" cy="381.94" r="3.2" fill="#9C2488"/>
<circle cx="601.54" cy="386.05" r="3.2" fill="#9C2488"/>
<line x1="478.14" y1="278.58" x2="478.14" y2="285.44" stroke="#C42AA6" stroke-width="1.2" />
<line x1="475.64" y1="278.58" x2="480.64" y2="278.58" stroke="#C42AA6" stroke-width="1.2" />
<line x1="475.64" y1="285.44" x2="480.64" y2="285.44" stroke="#C42AA6" stroke-width="1.2" />
<line x1="490.48" y1="285.44" x2="490.48" y2="294.57" stroke="#C42AA6" stroke-width="1.2" />
<line x1="487.98" y1="285.44" x2="492.98" y2="285.44" stroke="#C42AA6" stroke-width="1.2" />
<line x1="487.98" y1="294.57" x2="492.98" y2="294.57" stroke="#C42AA6" stroke-width="1.2" />
<line x1="502.82" y1="310.56" x2="502.82" y2="319.7" stroke="#C42AA6" stroke-width="1.2" />
<line x1="500.32" y1="310.56" x2="505.32" y2="310.56" stroke="#C42AA6" stroke-width="1.2" />
<line x1="500.32" y1="319.7" x2="505.32" y2="319.7" stroke="#C42AA6" stroke-width="1.2" />
<line x1="515.16" y1="337.4" x2="515.16" y2="344.25" stroke="#C42AA6" stroke-width="1.2" />
<line x1="512.66" y1="337.4" x2="517.66" y2="337.4" stroke="#C42AA6" stroke-width="1.2" />
<line x1="512.66" y1="344.25" x2="517.66" y2="344.25" stroke="#C42AA6" stroke-width="1.2" />
<line x1="527.5" y1="359.67" x2="527.5" y2="364.23" stroke="#C42AA6" stroke-width="1.2" />
<line x1="525" y1="359.67" x2="530" y2="359.67" stroke="#C42AA6" stroke-width="1.2" />
<line x1="525" y1="364.23" x2="530" y2="364.23" stroke="#C42AA6" stroke-width="1.2" />
<line x1="539.84" y1="376.8" x2="539.84" y2="381.36" stroke="#C42AA6" stroke-width="1.2" />
<line x1="537.34" y1="376.8" x2="542.34" y2="376.8" stroke="#C42AA6" stroke-width="1.2" />
<line x1="537.34" y1="381.36" x2="542.34" y2="381.36" stroke="#C42AA6" stroke-width="1.2" />
<rect x="475.14" y="279.01" width="6" height="6" fill="#C42AA6"/>
<rect x="487.48" y="287" width="6" height="6" fill="#C42AA6"/>
<rect x="499.82" y="312.13" width="6" height="6" fill="#C42AA6"/>
<rect x="512.16" y="337.82" width="6" height="6" fill="#C42AA6"/>
<rect x="524.5" y="358.95" width="6" height="6" fill="#C42AA6"/>
<rect x="536.84" y="376.08" width="6" height="6" fill="#C42AA6"/>
<rect x="549.18" y="382.25" width="6" height="6" fill="#C42AA6"/>
<rect x="561.52" y="384.64" width="6" height="6" fill="#C42AA6"/>
<rect x="573.86" y="385.22" width="6" height="6" fill="#C42AA6"/>
<rect x="586.2" y="385.79" width="6" height="6" fill="#C42AA6"/>
<rect x="598.54" y="386.36" width="6" height="6" fill="#C42AA6"/>
<line x1="478.14" y1="280.87" x2="478.14" y2="290" stroke="#E21EC4" stroke-width="1.2" />
<line x1="475.64" y1="280.87" x2="480.64" y2="280.87" stroke="#E21EC4" stroke-width="1.2" />
<line x1="475.64" y1="290" x2="480.64" y2="290" stroke="#E21EC4" stroke-width="1.2" />
<line x1="490.48" y1="288.86" x2="490.48" y2="300.28" stroke="#E21EC4" stroke-width="1.2" />
<line x1="487.98" y1="288.86" x2="492.98" y2="288.86" stroke="#E21EC4" stroke-width="1.2" />
<line x1="487.98" y1="300.28" x2="492.98" y2="300.28" stroke="#E21EC4" stroke-width="1.2" />
<line x1="502.82" y1="321.98" x2="502.82" y2="337.97" stroke="#E21EC4" stroke-width="1.2" />
<line x1="500.32" y1="321.98" x2="505.32" y2="321.98" stroke="#E21EC4" stroke-width="1.2" />
<line x1="500.32" y1="337.97" x2="505.32" y2="337.97" stroke="#E21EC4" stroke-width="1.2" />
<line x1="515.16" y1="352.81" x2="515.16" y2="364.23" stroke="#E21EC4" stroke-width="1.2" />
<line x1="512.66" y1="352.81" x2="517.66" y2="352.81" stroke="#E21EC4" stroke-width="1.2" />
<line x1="512.66" y1="364.23" x2="517.66" y2="364.23" stroke="#E21EC4" stroke-width="1.2" />
<line x1="527.5" y1="373.37" x2="527.5" y2="380.22" stroke="#E21EC4" stroke-width="1.2" />
<line x1="525" y1="373.37" x2="530" y2="373.37" stroke="#E21EC4" stroke-width="1.2" />
<line x1="525" y1="380.22" x2="530" y2="380.22" stroke="#E21EC4" stroke-width="1.2" />
<circle cx="478.14" cy="285.44" r="3.2" fill="#E21EC4"/>
<circle cx="490.48" cy="294.57" r="3.2" fill="#E21EC4"/>
<circle cx="502.82" cy="329.97" r="3.2" fill="#E21EC4"/>
<circle cx="515.16" cy="358.52" r="3.2" fill="#E21EC4"/>
<circle cx="527.5" cy="376.8" r="3.2" fill="#E21EC4"/>
<circle cx="539.84" cy="385.48" r="3.2" fill="#E21EC4"/>
<circle cx="552.18" cy="386.62" r="3.2" fill="#E21EC4"/>
<circle cx="564.52" cy="387.64" r="3.2" fill="#E21EC4"/>
<circle cx="576.86" cy="388.22" r="3.2" fill="#E21EC4"/>
<circle cx="589.2" cy="388.79" r="3.2" fill="#E21EC4"/>
<circle cx="601.54" cy="389.36" r="3.2" fill="#E21EC4"/>
<line x1="478.14" y1="280.87" x2="478.14" y2="294.57" stroke="#F23CD6" stroke-width="1.2" />
<line x1="475.64" y1="280.87" x2="480.64" y2="280.87" stroke="#F23CD6" stroke-width="1.2" />
<line x1="475.64" y1="294.57" x2="480.64" y2="294.57" stroke="#F23CD6" stroke-width="1.2" />
<line x1="490.48" y1="293.43" x2="490.48" y2="311.7" stroke="#F23CD6" stroke-width="1.2" />
<line x1="487.98" y1="293.43" x2="492.98" y2="293.43" stroke="#F23CD6" stroke-width="1.2" />
<line x1="487.98" y1="311.7" x2="492.98" y2="311.7" stroke="#F23CD6" stroke-width="1.2" />
<line x1="502.82" y1="319.7" x2="502.82" y2="337.97" stroke="#F23CD6" stroke-width="1.2" />
<line x1="500.32" y1="319.7" x2="505.32" y2="319.7" stroke="#F23CD6" stroke-width="1.2" />
<line x1="500.32" y1="337.97" x2="505.32" y2="337.97" stroke="#F23CD6" stroke-width="1.2" />
<line x1="515.16" y1="354.53" x2="515.16" y2="368.23" stroke="#F23CD6" stroke-width="1.2" />
<line x1="512.66" y1="354.53" x2="517.66" y2="354.53" stroke="#F23CD6" stroke-width="1.2" />
<line x1="512.66" y1="368.23" x2="517.66" y2="368.23" stroke="#F23CD6" stroke-width="1.2" />
<circle cx="478.14" cy="287.72" r="3.2" fill="#F23CD6"/>
<circle cx="490.48" cy="302.57" r="3.2" fill="#F23CD6"/>
<circle cx="502.82" cy="328.83" r="3.2" fill="#F23CD6"/>
<circle cx="515.16" cy="361.38" r="3.2" fill="#F23CD6"/>
<circle cx="527.5" cy="382.51" r="3.2" fill="#F23CD6"/>
<circle cx="539.84" cy="387.64" r="3.2" fill="#F23CD6"/>
<circle cx="552.18" cy="388.44" r="3.2" fill="#F23CD6"/>
<circle cx="564.52" cy="389.02" r="3.2" fill="#F23CD6"/>
<circle cx="576.86" cy="389.36" r="3.2" fill="#F23CD6"/>
<circle cx="589.2" cy="389.59" r="3.2" fill="#F23CD6"/>
<circle cx="601.54" cy="389.93" r="3.2" fill="#F23CD6"/>
<circle cx="446.2" cy="276.3" r="3.2" fill="#F23CD6"/>
<text transform="translate(5.3,483) scale(0.94,1)" text-anchor="start" font-size="10.2" fill="#000" >E)</text>
<rect x="94.2" y="496.7" width="72.1" height="132.7" fill="#FDF5D7"/>
<line x1="93.7" y1="497.2" x2="93.7" y2="629" stroke="#000" stroke-width="2" stroke-dasharray="2 3.75"/>
<line x1="166.3" y1="497.2" x2="166.3" y2="629" stroke="#000" stroke-width="2" stroke-dasharray="2 3.75"/>
<line x1="46.8" y1="496.1" x2="46.8" y2="630.1" stroke="#000" stroke-width="1.4" />
<line x1="39" y1="629.5" x2="247" y2="629.5" stroke="#000" stroke-width="1.4" />
<line x1="39.2" y1="629.6" x2="46.8" y2="629.6" stroke="#000" stroke-width="1.3" />
<text transform="translate(37,633.3) scale(0.94,1)" text-anchor="end" font-size="10.2" fill="#000" >0.001</text>
<line x1="39.2" y1="585.3" x2="46.8" y2="585.3" stroke="#000" stroke-width="1.3" />
<text transform="translate(37,589) scale(0.94,1)" text-anchor="end" font-size="10.2" fill="#000" >0.01</text>
<line x1="39.2" y1="541" x2="46.8" y2="541" stroke="#000" stroke-width="1.3" />
<text transform="translate(37,544.7) scale(0.94,1)" text-anchor="end" font-size="10.2" fill="#000" >0.1</text>
<line x1="39.2" y1="496.7" x2="46.8" y2="496.7" stroke="#000" stroke-width="1.3" />
<text transform="translate(37,500.4) scale(0.94,1)" text-anchor="end" font-size="10.2" fill="#000" >1</text>
<line x1="46.9" y1="629.5" x2="46.9" y2="637" stroke="#000" stroke-width="1.3" />
<text transform="translate(46.9,648.5)" text-anchor="middle" font-size="9.4">10<tspan font-size="6.4" dx="0.6" dy="-3.3">-2</tspan></text>
<line x1="86.8" y1="629.5" x2="86.8" y2="637" stroke="#000" stroke-width="1.3" />
<text transform="translate(86.8,648.5)" text-anchor="middle" font-size="9.4">10<tspan font-size="6.4" dx="0.6" dy="-3.3">-1</tspan></text>
<line x1="126.7" y1="629.5" x2="126.7" y2="637" stroke="#000" stroke-width="1.3" />
<text transform="translate(126.7,648.5)" text-anchor="middle" font-size="9.4">10<tspan font-size="6.4" dx="0.6" dy="-3.3">0</tspan></text>
<line x1="166.6" y1="629.5" x2="166.6" y2="637" stroke="#000" stroke-width="1.3" />
<text transform="translate(166.6,648.5)" text-anchor="middle" font-size="9.4">10<tspan font-size="6.4" dx="0.6" dy="-3.3">1</tspan></text>
<line x1="206.5" y1="629.5" x2="206.5" y2="637" stroke="#000" stroke-width="1.3" />
<text transform="translate(206.5,648.5)" text-anchor="middle" font-size="9.4">10<tspan font-size="6.4" dx="0.6" dy="-3.3">2</tspan></text>
<line x1="246.4" y1="629.5" x2="246.4" y2="637" stroke="#000" stroke-width="1.3" />
<text transform="translate(246.4,648.5)" text-anchor="middle" font-size="9.4">10<tspan font-size="6.4" dx="0.6" dy="-3.3">3</tspan></text>
<text transform="translate(146.7,662) scale(0.94,1)" text-anchor="middle" font-size="10.2" fill="#000" >[MTA], μM</text>
<text transform="translate(10,562.5) rotate(-90) scale(0.94,1)" text-anchor="middle" font-size="10.2" fill="#000" >MRTX1719 IC50, μM</text>
<line x1="62.07" y1="512.53" x2="62.07" y2="519.13" stroke="#000" stroke-width="1.3" />
<line x1="58.97" y1="512.53" x2="65.17" y2="512.53" stroke="#000" stroke-width="1.3" />
<line x1="58.97" y1="519.13" x2="65.17" y2="519.13" stroke="#000" stroke-width="1.3" />
<circle cx="62.07" cy="515.83" r="3.2" fill="#000"/>
<line x1="86.45" y1="519.94" x2="86.45" y2="530.34" stroke="#000" stroke-width="1.3" />
<line x1="83.35" y1="519.94" x2="89.55" y2="519.94" stroke="#000" stroke-width="1.3" />
<line x1="83.35" y1="530.34" x2="89.55" y2="530.34" stroke="#000" stroke-width="1.3" />
<circle cx="86.45" cy="525.14" r="3.2" fill="#000"/>
<line x1="110.38" y1="540.78" x2="110.38" y2="550.78" stroke="#000" stroke-width="1.3" />
<line x1="107.28" y1="540.78" x2="113.48" y2="540.78" stroke="#000" stroke-width="1.3" />
<line x1="107.28" y1="550.78" x2="113.48" y2="550.78" stroke="#000" stroke-width="1.3" />
<circle cx="110.38" cy="545.78" r="3.2" fill="#000"/>
<line x1="134.41" y1="567.65" x2="134.41" y2="577.65" stroke="#000" stroke-width="1.3" />
<line x1="131.31" y1="567.65" x2="137.51" y2="567.65" stroke="#000" stroke-width="1.3" />
<line x1="131.31" y1="577.65" x2="137.51" y2="577.65" stroke="#000" stroke-width="1.3" />
<circle cx="134.41" cy="572.65" r="3.2" fill="#000"/>
<circle cx="158.46" cy="604.43" r="3.2" fill="#000"/>
<circle cx="182.48" cy="616.26" r="3.2" fill="#000"/>
<line x1="206.5" y1="615.79" x2="206.5" y2="622.99" stroke="#000" stroke-width="1.3" />
<line x1="203.4" y1="615.79" x2="209.6" y2="615.79" stroke="#000" stroke-width="1.3" />
<line x1="203.4" y1="622.99" x2="209.6" y2="622.99" stroke="#000" stroke-width="1.3" />
<circle cx="206.5" cy="619.39" r="3.2" fill="#000"/>
</svg></body></html>
